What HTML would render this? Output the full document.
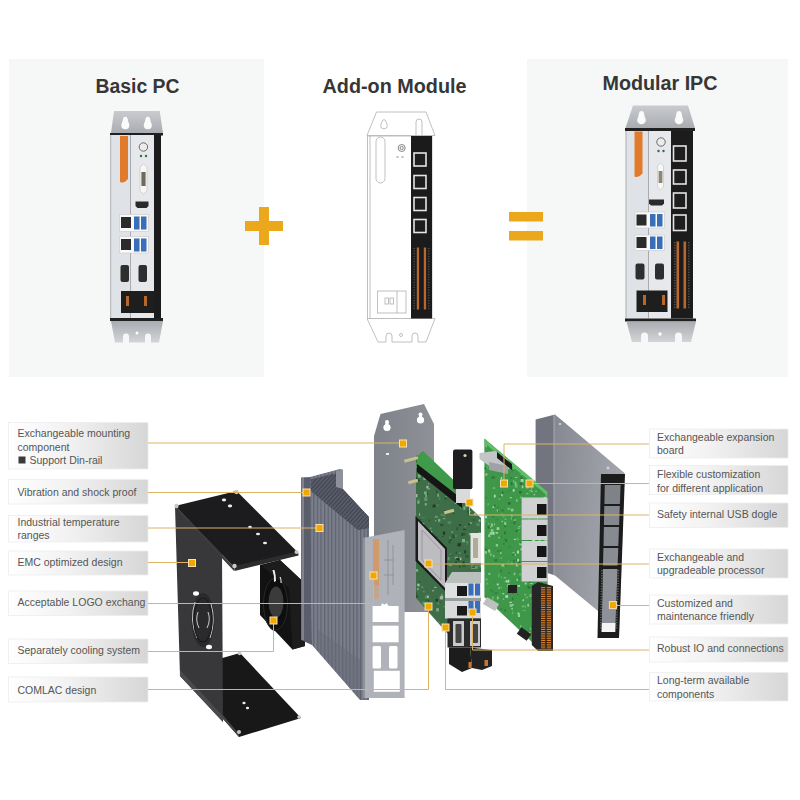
<!DOCTYPE html>
<html><head><meta charset="utf-8">
<style>
html,body{margin:0;padding:0;background:#fff;width:800px;height:800px;overflow:hidden;-webkit-font-smoothing:antialiased}
svg{display:block}
.t{font-family:"Liberation Sans",sans-serif;font-weight:bold;fill:#363636;font-size:20px}
.l{font-family:"Liberation Sans",sans-serif;fill:#555;font-size:10.5px}
</style></head><body>
<svg width="800" height="800" viewBox="0 0 800 800">
<defs>
<linearGradient id="lg" x1="0" x2="1" y1="0" y2="0">
<stop offset="0" stop-color="#ffffff"/><stop offset="0.45" stop-color="#f1f1f1"/><stop offset="1" stop-color="#d6d6d6"/>
</linearGradient>
<linearGradient id="brk" x1="0" x2="0" y1="0" y2="1">
<stop offset="0" stop-color="#c9cbcf"/><stop offset="1" stop-color="#a9acb1"/>
</linearGradient>
<linearGradient id="brkb" x1="0" x2="0" y1="0" y2="1">
<stop offset="0" stop-color="#a9acb1"/><stop offset="1" stop-color="#d2d4d7"/>
</linearGradient>
</defs>

<!-- top panels -->
<rect x="9" y="59" width="255" height="318" fill="#f6f7f7"/>
<rect x="527" y="59" width="261" height="318" fill="#f6f7f7"/>

<!-- titles -->
<text class="t" x="95.5" y="93" textLength="84" lengthAdjust="spacingAndGlyphs">Basic PC</text>
<text class="t" x="322.5" y="93" textLength="144" lengthAdjust="spacingAndGlyphs">Add-on Module</text>
<text class="t" x="602.5" y="90" textLength="115" lengthAdjust="spacingAndGlyphs">Modular IPC</text>

<!-- plus / equals -->
<g fill="#eca81c">
<rect x="245" y="221" width="38" height="10"/>
<rect x="259" y="207" width="10" height="38"/>
<rect x="509" y="212" width="34" height="9.5"/>
<rect x="509" y="231" width="34" height="9.5"/>
</g>


<!-- ===== Basic PC ===== -->
<g id="basic">
<polygon points="114,111 159.7,111 163,133 111,133" fill="url(#brk)"/>
<g fill="#fbfbfb"><circle cx="125.3" cy="119" r="2.3"/><circle cx="125.3" cy="125.3" r="4"/><polygon points="123.0,119 127.6,119 128.5,122.89999999999999 122.1,122.89999999999999"/></g><g fill="#fbfbfb"><circle cx="147.8" cy="119" r="2.3"/><circle cx="147.8" cy="125.3" r="4"/><polygon points="145.5,119 150.10000000000002,119 151.0,122.89999999999999 144.60000000000002,122.89999999999999"/></g>
<rect x="110" y="133" width="53" height="2.5" fill="#202020"/>
<rect x="110" y="135" width="44" height="183" fill="#e6e8eb"/>
<rect x="110" y="135" width="20" height="183" fill="#dfe2e7"/>
<rect x="110" y="135" width="1.2" height="183" fill="#b9bcc1"/>
<rect x="130" y="135" width="1" height="183" fill="#a9abb0"/>
<rect x="154" y="135" width="7" height="183" fill="#1c1c1c"/>
<path d="M120,136 h8 v43 q-4,5 -8,3 z" fill="#e27a2b"/>
<circle cx="143.4" cy="147" r="4.2" fill="#ececec" stroke="#6a6a6a" stroke-width="1"/>
<circle cx="141" cy="156" r="1.2" fill="#3d6a45"/><circle cx="146" cy="156" r="1.2" fill="#3d6a45"/>
<path d="M140,167 l3.5,-3 l3.5,3 v24 l-3.5,3 l-3.5,-3 z" fill="#f7f7f7" stroke="#bfbfbf" stroke-width="0.6"/>
<rect x="141.4" y="172" width="4.2" height="14" fill="#6f6a5c"/>
<path d="M135.5,201.5 h13 v4.5 l-2,2 h-9 l-2,-2 z" fill="#2a2a2a"/>
<rect x="119.5" y="214.5" width="29" height="17" fill="#f9f9f9" stroke="#c9c9c9" stroke-width="0.6"/>
<rect x="121" y="217" width="10" height="11" fill="#2b2b2b"/>
<rect x="134" y="216.5" width="5.5" height="13" fill="#3a6fb8"/>
<rect x="141" y="216.5" width="5.5" height="13" fill="#3a6fb8"/>
<rect x="119.5" y="236.5" width="29" height="16.5" fill="#f9f9f9" stroke="#c9c9c9" stroke-width="0.6"/>
<rect x="121" y="239" width="10" height="11" fill="#2b2b2b"/>
<rect x="134" y="238.5" width="5.5" height="13" fill="#3a6fb8"/>
<rect x="141" y="238.5" width="5.5" height="13" fill="#3a6fb8"/>
<rect x="120.5" y="265" width="8.5" height="17" rx="2" fill="#2e2e2e"/>
<rect x="138.5" y="265" width="8.5" height="17" rx="2" fill="#2e2e2e"/>
<rect x="121" y="291" width="33" height="22" fill="#1e1e1e"/>
<rect x="126" y="296" width="3" height="10" fill="#b8672a"/>
<rect x="144" y="296" width="3" height="10" fill="#b8672a"/>
<rect x="110" y="318" width="53" height="3" fill="#202020"/>
<path d="M111,321 h52 l-4,21.5 h-8 v-6 a3,3 0 0 0 -6,0 v6 h-16 v-6 a3,3 0 0 0 -6,0 v6 h-8 z" fill="url(#brkb)"/>
<circle cx="137" cy="333" r="1.5" fill="#fff"/>
</g>

<!-- ===== Add-on Module (line drawing) ===== -->
<g id="addon" fill="none" stroke="#b9b9b9" stroke-width="0.9">
<polygon points="376.5,112 426,112 435,135.5 367,135.5" fill="#fff"/>
<path d="M382.2,121.5 a1.8,1.8 0 0 1 3.6,0 l1.6,4 a3.4,3.4 0 1 1 -6.8,0 z"/>
<path d="M416,136 v-14 a3,3 0 0 1 6,0 v14"/>
<rect x="367.5" y="136" width="64.5" height="182.5" fill="#fff"/>
<line x1="370" y1="136" x2="370" y2="318"/>
<rect x="376" y="137" width="9" height="46" rx="4.5"/>
<circle cx="401.7" cy="148" r="3.5" stroke="#777"/>
<circle cx="401.7" cy="148" r="1.6" stroke="#777"/>
<path d="M396,157 h3 m2,0 h3" stroke="#999"/>
<rect x="377.5" y="291" width="28.5" height="22"/>
<line x1="397" y1="291" x2="397" y2="313"/>
<rect x="385" y="298" width="3.5" height="6"/><rect x="390" y="298" width="3.5" height="6"/>
<path d="M367,318.5 h68 l-9,23.5 h-8 v-6 a3,3 0 0 0 -6,0 v6 h-20 v-6 a3,3 0 0 0 -6,0 v6 h-8 z" fill="#fff"/>
<circle cx="401" cy="335" r="1.5"/>
</g>
<rect x="411" y="136" width="21" height="182.5" fill="#1b1b1b"/>
<g fill="#1e1e1e" stroke="#e4e4e4" stroke-width="1.6">
<rect x="414" y="153" width="12" height="13"/>
<rect x="414" y="175.5" width="12" height="13"/>
<rect x="414" y="197.5" width="12" height="13"/>
<rect x="414" y="219.5" width="12" height="13"/>
</g>
<g fill="#b8682c">
<rect x="416.8" y="247.5" width="2.3" height="62"/>
<rect x="423.8" y="247.5" width="2.3" height="62"/>
</g><rect x="413.5" y="248.0" width="1.4" height="1.1" fill="#555"/><rect x="428" y="248.0" width="1.4" height="1.1" fill="#555"/><rect x="413.5" y="250.6" width="1.4" height="1.1" fill="#555"/><rect x="428" y="250.6" width="1.4" height="1.1" fill="#555"/><rect x="413.5" y="253.2" width="1.4" height="1.1" fill="#555"/><rect x="428" y="253.2" width="1.4" height="1.1" fill="#555"/><rect x="413.5" y="255.8" width="1.4" height="1.1" fill="#555"/><rect x="428" y="255.8" width="1.4" height="1.1" fill="#555"/><rect x="413.5" y="258.4" width="1.4" height="1.1" fill="#555"/><rect x="428" y="258.4" width="1.4" height="1.1" fill="#555"/><rect x="413.5" y="261.0" width="1.4" height="1.1" fill="#555"/><rect x="428" y="261.0" width="1.4" height="1.1" fill="#555"/><rect x="413.5" y="263.6" width="1.4" height="1.1" fill="#555"/><rect x="428" y="263.6" width="1.4" height="1.1" fill="#555"/><rect x="413.5" y="266.2" width="1.4" height="1.1" fill="#555"/><rect x="428" y="266.2" width="1.4" height="1.1" fill="#555"/><rect x="413.5" y="268.8" width="1.4" height="1.1" fill="#555"/><rect x="428" y="268.8" width="1.4" height="1.1" fill="#555"/><rect x="413.5" y="271.4" width="1.4" height="1.1" fill="#555"/><rect x="428" y="271.4" width="1.4" height="1.1" fill="#555"/><rect x="413.5" y="274.0" width="1.4" height="1.1" fill="#555"/><rect x="428" y="274.0" width="1.4" height="1.1" fill="#555"/><rect x="413.5" y="276.6" width="1.4" height="1.1" fill="#555"/><rect x="428" y="276.6" width="1.4" height="1.1" fill="#555"/><rect x="413.5" y="279.2" width="1.4" height="1.1" fill="#555"/><rect x="428" y="279.2" width="1.4" height="1.1" fill="#555"/><rect x="413.5" y="281.8" width="1.4" height="1.1" fill="#555"/><rect x="428" y="281.8" width="1.4" height="1.1" fill="#555"/><rect x="413.5" y="284.4" width="1.4" height="1.1" fill="#555"/><rect x="428" y="284.4" width="1.4" height="1.1" fill="#555"/><rect x="413.5" y="287.0" width="1.4" height="1.1" fill="#555"/><rect x="428" y="287.0" width="1.4" height="1.1" fill="#555"/><rect x="413.5" y="289.6" width="1.4" height="1.1" fill="#555"/><rect x="428" y="289.6" width="1.4" height="1.1" fill="#555"/><rect x="413.5" y="292.2" width="1.4" height="1.1" fill="#555"/><rect x="428" y="292.2" width="1.4" height="1.1" fill="#555"/><rect x="413.5" y="294.8" width="1.4" height="1.1" fill="#555"/><rect x="428" y="294.8" width="1.4" height="1.1" fill="#555"/><rect x="413.5" y="297.4" width="1.4" height="1.1" fill="#555"/><rect x="428" y="297.4" width="1.4" height="1.1" fill="#555"/><rect x="413.5" y="300.0" width="1.4" height="1.1" fill="#555"/><rect x="428" y="300.0" width="1.4" height="1.1" fill="#555"/><rect x="413.5" y="302.6" width="1.4" height="1.1" fill="#555"/><rect x="428" y="302.6" width="1.4" height="1.1" fill="#555"/><rect x="413.5" y="305.2" width="1.4" height="1.1" fill="#555"/><rect x="428" y="305.2" width="1.4" height="1.1" fill="#555"/><rect x="413.5" y="307.8" width="1.4" height="1.1" fill="#555"/><rect x="428" y="307.8" width="1.4" height="1.1" fill="#555"/>

<!-- ===== Modular IPC ===== -->
<g id="modular">
<polygon points="633,105.5 688,105.5 695,128 625.5,128" fill="url(#brk)"/>
<g fill="#fbfbfb"><circle cx="641.5" cy="113.5" r="2.5"/><circle cx="641.5" cy="120" r="4.3"/><polygon points="639.0,113.5 644.0,113.5 644.94,117.42 638.06,117.42"/></g><g fill="#fbfbfb"><circle cx="679" cy="113.5" r="2.5"/><circle cx="679" cy="120" r="4.3"/><polygon points="676.5,113.5 681.5,113.5 682.44,117.42 675.56,117.42"/></g>
<rect x="625" y="128" width="70" height="3" fill="#202020"/>
<rect x="625.5" y="131" width="46" height="187.5" fill="#e6e8eb"/>
<rect x="625.5" y="131" width="22.5" height="187.5" fill="#dfe2e7"/>
<rect x="625.5" y="131" width="1.2" height="187.5" fill="#b9bcc1"/>
<rect x="648" y="131" width="1" height="187.5" fill="#a9abb0"/>
<rect x="671" y="131" width="22" height="187.5" fill="#1c1c1c"/>
<path d="M634.5,131.5 h8 v42 q-4,5 -8,3 z" fill="#e27a2b"/>
<circle cx="661" cy="142" r="4.2" fill="#ececec" stroke="#6a6a6a" stroke-width="1"/>
<circle cx="658.5" cy="151" r="1.2" fill="#3d6a45"/><circle cx="663.5" cy="151" r="1.2" fill="#3d6a45"/>
<path d="M657.5,166 l3,-3 l3,3 v21 l-3,3 l-3,-3 z" fill="#f7f7f7" stroke="#bfbfbf" stroke-width="0.6"/>
<rect x="658.6" y="171" width="3.8" height="12" fill="#8d8672"/>
<path d="M649,199.5 h15 v4 l-2,2 h-11 l-2,-2 z" fill="#2a2a2a"/>
<rect x="635" y="212" width="29.5" height="16" fill="#f9f9f9" stroke="#c9c9c9" stroke-width="0.6"/>
<rect x="636.5" y="214.5" width="10" height="11" fill="#2b2b2b"/>
<rect x="650" y="214" width="5.5" height="12.5" fill="#3a6fb8"/>
<rect x="657" y="214" width="5.5" height="12.5" fill="#3a6fb8"/>
<rect x="635" y="235" width="29.5" height="15.5" fill="#f9f9f9" stroke="#c9c9c9" stroke-width="0.6"/>
<rect x="636.5" y="237" width="10" height="11" fill="#2b2b2b"/>
<rect x="650" y="236.5" width="5.5" height="12.5" fill="#3a6fb8"/>
<rect x="657" y="236.5" width="5.5" height="12.5" fill="#3a6fb8"/>
<rect x="635.5" y="263.5" width="9" height="16" rx="2" fill="#2e2e2e"/>
<rect x="655" y="263.5" width="9" height="16" rx="2" fill="#2e2e2e"/>
<rect x="636.5" y="290.5" width="31" height="21.5" fill="#1e1e1e"/>
<rect x="643" y="295" width="3" height="10" fill="#b8672a"/>
<rect x="662" y="295" width="3" height="10" fill="#b8672a"/>
<g fill="#1e1e1e" stroke="#e4e4e4" stroke-width="1.6">
<rect x="673.5" y="146" width="12.5" height="15"/>
<rect x="673.5" y="170" width="12.5" height="14"/>
<rect x="673.5" y="193" width="12.5" height="15"/>
<rect x="673.5" y="215" width="12.5" height="15.5"/>
</g>
<rect x="676.5" y="241.5" width="2.6" height="67" fill="#b8682c"/>
<rect x="683.5" y="241.5" width="2.6" height="67" fill="#b8682c"/><rect x="674" y="242.0" width="1.5" height="1.2" fill="#555"/><rect x="688" y="242.0" width="1.5" height="1.2" fill="#555"/><rect x="674" y="244.7" width="1.5" height="1.2" fill="#555"/><rect x="688" y="244.7" width="1.5" height="1.2" fill="#555"/><rect x="674" y="247.4" width="1.5" height="1.2" fill="#555"/><rect x="688" y="247.4" width="1.5" height="1.2" fill="#555"/><rect x="674" y="250.1" width="1.5" height="1.2" fill="#555"/><rect x="688" y="250.1" width="1.5" height="1.2" fill="#555"/><rect x="674" y="252.8" width="1.5" height="1.2" fill="#555"/><rect x="688" y="252.8" width="1.5" height="1.2" fill="#555"/><rect x="674" y="255.5" width="1.5" height="1.2" fill="#555"/><rect x="688" y="255.5" width="1.5" height="1.2" fill="#555"/><rect x="674" y="258.2" width="1.5" height="1.2" fill="#555"/><rect x="688" y="258.2" width="1.5" height="1.2" fill="#555"/><rect x="674" y="260.9" width="1.5" height="1.2" fill="#555"/><rect x="688" y="260.9" width="1.5" height="1.2" fill="#555"/><rect x="674" y="263.6" width="1.5" height="1.2" fill="#555"/><rect x="688" y="263.6" width="1.5" height="1.2" fill="#555"/><rect x="674" y="266.3" width="1.5" height="1.2" fill="#555"/><rect x="688" y="266.3" width="1.5" height="1.2" fill="#555"/><rect x="674" y="269.0" width="1.5" height="1.2" fill="#555"/><rect x="688" y="269.0" width="1.5" height="1.2" fill="#555"/><rect x="674" y="271.7" width="1.5" height="1.2" fill="#555"/><rect x="688" y="271.7" width="1.5" height="1.2" fill="#555"/><rect x="674" y="274.4" width="1.5" height="1.2" fill="#555"/><rect x="688" y="274.4" width="1.5" height="1.2" fill="#555"/><rect x="674" y="277.1" width="1.5" height="1.2" fill="#555"/><rect x="688" y="277.1" width="1.5" height="1.2" fill="#555"/><rect x="674" y="279.8" width="1.5" height="1.2" fill="#555"/><rect x="688" y="279.8" width="1.5" height="1.2" fill="#555"/><rect x="674" y="282.5" width="1.5" height="1.2" fill="#555"/><rect x="688" y="282.5" width="1.5" height="1.2" fill="#555"/><rect x="674" y="285.2" width="1.5" height="1.2" fill="#555"/><rect x="688" y="285.2" width="1.5" height="1.2" fill="#555"/><rect x="674" y="287.9" width="1.5" height="1.2" fill="#555"/><rect x="688" y="287.9" width="1.5" height="1.2" fill="#555"/><rect x="674" y="290.6" width="1.5" height="1.2" fill="#555"/><rect x="688" y="290.6" width="1.5" height="1.2" fill="#555"/><rect x="674" y="293.3" width="1.5" height="1.2" fill="#555"/><rect x="688" y="293.3" width="1.5" height="1.2" fill="#555"/><rect x="674" y="296.0" width="1.5" height="1.2" fill="#555"/><rect x="688" y="296.0" width="1.5" height="1.2" fill="#555"/><rect x="674" y="298.7" width="1.5" height="1.2" fill="#555"/><rect x="688" y="298.7" width="1.5" height="1.2" fill="#555"/><rect x="674" y="301.4" width="1.5" height="1.2" fill="#555"/><rect x="688" y="301.4" width="1.5" height="1.2" fill="#555"/><rect x="674" y="304.1" width="1.5" height="1.2" fill="#555"/><rect x="688" y="304.1" width="1.5" height="1.2" fill="#555"/><rect x="674" y="306.8" width="1.5" height="1.2" fill="#555"/><rect x="688" y="306.8" width="1.5" height="1.2" fill="#555"/>
<rect x="625" y="318.5" width="71" height="3" fill="#202020"/>
<path d="M626.5,321.5 h69.5 l-5,20.5 h-9 v-6 a3.5,3.5 0 0 0 -7,0 v6 h-27 v-6 a3.5,3.5 0 0 0 -7,0 v6 h-9 z" fill="url(#brkb)"/>
<circle cx="660" cy="334" r="1.7" fill="#fff"/>
</g>


<!-- ===== labels ===== -->
<g>
<rect x="8.5" y="422.5" width="139.5" height="46.5" fill="url(#lg)" stroke="#ededed" stroke-width="0.8"/>
<rect x="8.5" y="479.5" width="139.5" height="24.5" fill="url(#lg)" stroke="#ededed" stroke-width="0.8"/>
<rect x="8.5" y="515.5" width="139.5" height="26.5" fill="url(#lg)" stroke="#ededed" stroke-width="0.8"/>
<rect x="8.5" y="551" width="139.5" height="24" fill="url(#lg)" stroke="#ededed" stroke-width="0.8"/>
<rect x="8.5" y="591" width="139.5" height="24.5" fill="url(#lg)" stroke="#ededed" stroke-width="0.8"/>
<rect x="8.5" y="639" width="139.5" height="24.5" fill="url(#lg)" stroke="#ededed" stroke-width="0.8"/>
<rect x="8.5" y="677" width="139.5" height="25" fill="url(#lg)" stroke="#ededed" stroke-width="0.8"/>
<rect x="649.5" y="429" width="138.5" height="29" fill="url(#lg)" stroke="#ededed" stroke-width="0.8"/>
<rect x="649.5" y="465.5" width="138.5" height="29" fill="url(#lg)" stroke="#ededed" stroke-width="0.8"/>
<rect x="649.5" y="503" width="138.5" height="24.5" fill="url(#lg)" stroke="#ededed" stroke-width="0.8"/>
<rect x="649.5" y="549" width="138.5" height="29" fill="url(#lg)" stroke="#ededed" stroke-width="0.8"/>
<rect x="649.5" y="595" width="138.5" height="29" fill="url(#lg)" stroke="#ededed" stroke-width="0.8"/>
<rect x="649.5" y="637" width="138.5" height="25" fill="url(#lg)" stroke="#ededed" stroke-width="0.8"/>
<rect x="649.5" y="672.5" width="138.5" height="28.5" fill="url(#lg)" stroke="#ededed" stroke-width="0.8"/>
</g>
<g class="l">
<text x="17.5" y="437">Exchangeable mounting</text>
<text x="17.5" y="450.5">component</text>
<rect x="18.5" y="456.5" width="7" height="7" fill="#3a3a3a"/>
<text x="29.5" y="463.8">Support Din-rail</text>
<text x="17.5" y="495.6">Vibration and shock proof</text>
<text x="17.5" y="525.6">Industrial temperature</text>
<text x="17.5" y="539">ranges</text>
<text x="17.5" y="565.6">EMC optimized design</text>
<text x="17.5" y="606">Acceptable LOGO exchang</text>
<text x="17.5" y="654">Separately cooling system</text>
<text x="17.5" y="693.6">COMLAC design</text>
<text x="657" y="441">Exchangeable expansion</text>
<text x="657" y="454.4">board</text>
<text x="657" y="478">Flexible customization</text>
<text x="657" y="491.6">for different application</text>
<text x="657" y="518">Safety internal USB dogle</text>
<text x="657" y="561">Exchangeable and</text>
<text x="657" y="574.4">upgradeable processor</text>
<text x="657" y="606.6">Customized and</text>
<text x="657" y="620">maintenance friendly</text>
<text x="657" y="652.4">Robust IO and connections</text>
<text x="657" y="684.4">Long-term available</text>
<text x="657" y="697.6">components</text>
</g>

<!-- ===== exploded view ===== -->
<defs>
<clipPath id="cpMain"><polygon points="416,455 481,518 481,620 448,634 416,598"/></clipPath>
<clipPath id="cpExp"><polygon points="484.4,438.6 547.6,491.8 547.6,585 532,642 484.4,597"/></clipPath>
<clipPath id="cpHs"><polygon points="310,477 340,469 343,470 343,489 369,517 369,700 360,700 312,645"/></clipPath>
<pattern id="finpat" width="3.6" height="10" patternUnits="userSpaceOnUse"><rect width="3.6" height="10" fill="#7b7e8b"/><rect width="1.3" height="10" fill="#5f6270"/></pattern>
<pattern id="finpat2" width="3" height="3" patternUnits="userSpaceOnUse" patternTransform="rotate(42)"><rect width="3" height="3" fill="#5d606d"/><rect width="1.2" height="3" fill="#3c3f4b"/></pattern>
<linearGradient id="caseg" x1="0" x2="1" y1="0" y2="0.3"><stop offset="0" stop-color="#868991"/><stop offset="1" stop-color="#a4a7ae"/></linearGradient>
<linearGradient id="mbg" x1="0" x2="1" y1="0" y2="0"><stop offset="0" stop-color="#7e8289"/><stop offset="1" stop-color="#8e9197"/></linearGradient>
</defs>
<g id="exploded">
<!-- black COMLAC bracket -->
<polygon points="180,670 240,653 301,718 239,737" fill="#181818"/>
<polygon points="180,670 239,737 239,734 182,667" fill="#444"/>
<polygon points="175,506 222,554 223,722 180,676" fill="#38383b"/>
<polygon points="180,670 223,716 223,722 180,676" fill="#4a4a4c"/>
<polygon points="175,506 236.5,491 298,552.4 234,567" fill="#1c1c1e"/>
<polygon points="175,506 234,567 234,571 176,509" fill="#3c3c3e"/>
<polygon points="234,566 298,551.4 298.5,555.5 234.5,571" fill="#2c2c2c"/>
<g fill="#c8c8c8"><circle cx="176.5" cy="506" r="2.2"/><circle cx="236.5" cy="492" r="2.2"/><circle cx="296.5" cy="552" r="2"/><circle cx="234.5" cy="566" r="2.2"/>
<circle cx="239.5" cy="653.5" r="1.8"/><circle cx="299" cy="717" r="1.8"/><circle cx="239" cy="732" r="2"/></g>
<g fill="#eee"><ellipse cx="224" cy="500" rx="2.2" ry="1.4"/><ellipse cx="230" cy="506" rx="2.2" ry="1.4"/><ellipse cx="250" cy="527" rx="1.8" ry="1.2"/><ellipse cx="258" cy="534" rx="2" ry="1.3"/><ellipse cx="265" cy="543" rx="2" ry="1.3"/>
<ellipse cx="244" cy="703" rx="1.6" ry="1.2"/><ellipse cx="247.5" cy="708" rx="1.6" ry="1.2"/></g>
<ellipse cx="203" cy="620" rx="11.5" ry="27" fill="#2a2a2c"/>
<g fill="none" stroke="#d9d9d9" stroke-width="0.9">
<path d="M195,602 q-6,18 2,36"/><path d="M211,604 q5,16 -1,34"/>
<path d="M198,612 q-3,8 1,16"/><path d="M208,612 q3,8 -1,16"/>
</g>
<ellipse cx="203" cy="620" rx="9" ry="22" fill="none" stroke="#1a1a1a" stroke-width="1.2"/>
<ellipse cx="196" cy="593.5" rx="3" ry="2.2" fill="#fff"/>
<ellipse cx="209" cy="647" rx="3" ry="2.2" fill="#fff"/>
<!-- fan -->
<polygon points="260,565 280,560 304,582.5 305,646 292.5,649.5 260,615" fill="#121212"/>
<polygon points="280,560 304,582.5 305,646 292.5,649.5 289,588 262,566" fill="#1c1c1d"/>
<ellipse cx="275.5" cy="604" rx="12.5" ry="27" fill="#0e0e0e"/>
<ellipse cx="275.5" cy="604" rx="12" ry="26" fill="none" stroke="#2a2a2a" stroke-width="1"/>
<path d="M272.5,570 q2,6 1.5,12 l2,-1 q0,-6 -1.5,-11 z" fill="#f2f2f2"/>
<path d="M279.5,577 q1.5,3 1,6 l1.2,0 q0,-3 -1,-6 z" fill="#e8e8e8"/>
<ellipse cx="276" cy="602" rx="7.5" ry="15.5" fill="#3b3b3c"/>
<!-- heatsink -->
<polygon points="301,477.5 311,477 312,645 301,640" fill="#5a5d6b"/><rect x="301.5" y="478" width="2.5" height="162" fill="#80838f"/>
<polygon points="310,477 340,469 343,470 343,489 369,517 369,700 360,700 312,645" fill="url(#finpat)"/>
<g clip-path="url(#cpHs)">
<polygon points="311,479.5 336,473.5 343,489 369,517 369,528 358,530 311,491" fill="#4f525f"/><polygon points="311,479.5 336,473.5 343,489 369,517 369,528 358,530 311,491" fill="url(#finpat2)" opacity="0.8"/>
<polygon points="318,630 360,660 360,700 318,650" fill="#676a78" opacity="0.5"/>
</g>
<polygon points="336,471 343,469.5 343,489 336,487" fill="#8e919b"/>
<!-- mounting bracket -->
<polygon points="374,436 380.5,414 424,404 434,424 434,612 374,612" fill="url(#mbg)"/>
<g fill="#fff"><circle cx="387" cy="422" r="2"/><circle cx="387" cy="427.5" r="3.6"/><rect x="385.5" y="422" width="3" height="5"/><circle cx="420.5" cy="414.5" r="2"/><circle cx="420.5" cy="420" r="3.6"/><rect x="419" y="414.5" width="3" height="5"/></g>
<rect x="386" y="453" width="3" height="2" fill="#eee"/>
<!-- IO shield -->
<polygon points="363,538 404.6,530 404.6,698 363,698" fill="#afb2b9"/>
<rect x="363" y="538" width="2" height="160" fill="#8e9198"/>
<rect x="373" y="539" width="6" height="46" fill="#d19a6c"/><rect x="373" y="585" width="6" height="14" fill="#c2a690"/>
<g fill="none" stroke="#8a8d94" stroke-width="0.8"><path d="M388,540 v55 M393,545 v40 M384,560 h10 M384,575 h10"/></g>
<g fill="#fff">
<path d="M372.6,606 h8 l2,-3 q2,3 4,0 l2,3 h10 v16 h-26 z"/>
<rect x="372.6" y="625.7" width="26" height="16.6"/>
<rect x="372.6" y="646" width="8.4" height="22.4" rx="1.5"/>
<rect x="389" y="646" width="8.5" height="22.4" rx="1.5"/>
<rect x="373.8" y="670.8" width="26" height="21"/>
</g>
<!-- main PCB -->
<polygon points="416,455 481,518 481,620 448,634 416,598" fill="#3d6e47"/>
<g clip-path="url(#cpMain)"><rect x="456.7" y="588.5" width="2.9" height="3.3" fill="#5c9966"/><rect x="471.3" y="594.7" width="1.5" height="0.9" fill="#2a5a33"/><rect x="422.6" y="539.4" width="1.5" height="2.3" fill="#8aa790"/><rect x="415.9" y="494.0" width="1.6" height="3.3" fill="#a8b5aa"/><rect x="425.7" y="598.5" width="1.2" height="2.5" fill="#2a5a33"/><rect x="423.9" y="630.0" width="0.8" height="2.9" fill="#2a5a33"/><rect x="473.5" y="507.1" width="3.4" height="2.3" fill="#8aa790"/><rect x="427.2" y="629.3" width="1.3" height="3.4" fill="#a8b5aa"/><rect x="435.0" y="520.0" width="1.2" height="1.2" fill="#77ad7f"/><rect x="437.2" y="602.1" width="2.4" height="2.4" fill="#4f8a58"/><rect x="419.4" y="519.0" width="1.6" height="2.7" fill="#2a5a33"/><rect x="447.2" y="581.8" width="1.0" height="3.4" fill="#5c9966"/><rect x="478.6" y="519.4" width="1.9" height="2.3" fill="#a8b5aa"/><rect x="439.5" y="559.1" width="0.8" height="0.9" fill="#2a5a33"/><rect x="456.8" y="626.8" width="1.1" height="1.5" fill="#33473a"/><rect x="438.1" y="518.9" width="2.2" height="2.9" fill="#77ad7f"/><rect x="454.5" y="595.6" width="1.8" height="1.6" fill="#a8b5aa"/><rect x="478.4" y="471.4" width="1.7" height="2.4" fill="#2a5a33"/><rect x="437.8" y="621.4" width="2.3" height="1.6" fill="#4f8a58"/><rect x="435.5" y="598.8" width="2.5" height="2.7" fill="#1f3d25"/><rect x="481.8" y="484.1" width="0.9" height="3.5" fill="#a8b5aa"/><rect x="417.1" y="588.3" width="1.7" height="1.5" fill="#a8b5aa"/><rect x="424.8" y="631.2" width="2.5" height="3.0" fill="#4f8a58"/><rect x="471.2" y="478.5" width="2.8" height="3.4" fill="#a8b5aa"/><rect x="422.1" y="533.2" width="1.2" height="3.1" fill="#1f3d25"/><rect x="424.5" y="621.0" width="2.5" height="1.3" fill="#33473a"/><rect x="479.3" y="579.0" width="1.7" height="1.5" fill="#33473a"/><rect x="442.1" y="481.4" width="1.8" height="3.5" fill="#2a5a33"/><rect x="457.0" y="544.9" width="1.7" height="1.0" fill="#1f3d25"/><rect x="449.5" y="553.7" width="2.2" height="1.0" fill="#4f8a58"/><rect x="461.5" y="574.5" width="2.9" height="1.8" fill="#1f3d25"/><rect x="471.0" y="502.7" width="3.4" height="2.7" fill="#4f8a58"/><rect x="458.5" y="559.5" width="0.8" height="2.3" fill="#1f3d25"/><rect x="436.8" y="504.3" width="1.6" height="2.2" fill="#4f8a58"/><rect x="438.3" y="570.9" width="2.8" height="3.0" fill="#4f8a58"/><rect x="476.8" y="486.0" width="3.1" height="2.0" fill="#4f8a58"/><rect x="479.1" y="548.3" width="2.2" height="1.2" fill="#4f8a58"/><rect x="477.8" y="540.9" width="2.7" height="2.7" fill="#a8b5aa"/><rect x="426.5" y="595.5" width="2.4" height="2.6" fill="#a8b5aa"/><rect x="435.3" y="554.6" width="3.1" height="1.5" fill="#5c9966"/><rect x="428.1" y="560.6" width="2.5" height="1.3" fill="#2a5a33"/><rect x="457.3" y="462.5" width="2.1" height="1.4" fill="#5c9966"/><rect x="474.8" y="474.9" width="3.4" height="2.1" fill="#5c9966"/><rect x="442.8" y="518.2" width="2.6" height="1.0" fill="#8aa790"/><rect x="430.9" y="617.6" width="0.8" height="1.9" fill="#1f3d25"/><rect x="472.3" y="611.0" width="2.7" height="2.3" fill="#5c9966"/><rect x="451.8" y="509.2" width="1.6" height="2.2" fill="#1f3d25"/><rect x="479.2" y="602.3" width="1.9" height="3.0" fill="#4f8a58"/><rect x="446.3" y="483.2" width="1.8" height="2.1" fill="#8aa790"/><rect x="479.9" y="564.5" width="1.7" height="3.2" fill="#5c9966"/><rect x="440.6" y="513.7" width="3.3" height="2.3" fill="#4f8a58"/><rect x="457.2" y="615.4" width="1.8" height="2.0" fill="#8aa790"/><rect x="448.1" y="541.3" width="2.7" height="1.8" fill="#2a5a33"/><rect x="454.9" y="501.8" width="3.4" height="2.1" fill="#a8b5aa"/><rect x="416.3" y="625.1" width="1.6" height="3.3" fill="#2a5a33"/><rect x="447.0" y="476.9" width="2.5" height="2.0" fill="#1f3d25"/><rect x="417.7" y="479.6" width="1.9" height="2.1" fill="#1f3d25"/><rect x="431.3" y="540.4" width="0.9" height="2.1" fill="#2a5a33"/><rect x="463.3" y="506.4" width="2.1" height="3.5" fill="#77ad7f"/><rect x="416.1" y="477.7" width="1.6" height="2.7" fill="#1f3d25"/><rect x="464.0" y="459.8" width="1.7" height="2.6" fill="#2a5a33"/><rect x="417.4" y="500.4" width="2.0" height="3.3" fill="#8aa790"/><rect x="416.0" y="595.1" width="2.0" height="2.4" fill="#33473a"/><rect x="472.5" y="606.4" width="2.1" height="2.6" fill="#8aa790"/><rect x="475.2" y="538.7" width="2.8" height="1.6" fill="#5c9966"/><rect x="461.5" y="532.9" width="1.6" height="2.9" fill="#1f3d25"/><rect x="424.6" y="541.1" width="2.3" height="2.1" fill="#4f8a58"/><rect x="451.0" y="531.6" width="2.3" height="0.9" fill="#8aa790"/><rect x="432.9" y="470.3" width="1.0" height="3.3" fill="#4f8a58"/><rect x="463.4" y="631.2" width="3.5" height="2.7" fill="#5c9966"/><rect x="423.3" y="477.0" width="2.5" height="3.0" fill="#77ad7f"/><rect x="462.7" y="479.2" width="1.6" height="3.3" fill="#2a5a33"/><rect x="427.3" y="488.4" width="3.0" height="1.0" fill="#8aa790"/><rect x="417.9" y="474.5" width="1.8" height="1.0" fill="#5c9966"/><rect x="453.3" y="476.3" width="1.9" height="2.5" fill="#5c9966"/><rect x="443.9" y="511.6" width="2.4" height="2.1" fill="#4f8a58"/><rect x="476.3" y="479.9" width="1.6" height="2.3" fill="#1f3d25"/><rect x="476.0" y="554.9" width="2.5" height="1.5" fill="#8aa790"/><rect x="432.0" y="590.1" width="2.2" height="1.2" fill="#8aa790"/><rect x="472.9" y="536.6" width="1.9" height="1.2" fill="#5c9966"/><rect x="458.9" y="470.3" width="2.6" height="1.0" fill="#77ad7f"/><rect x="448.9" y="536.6" width="1.9" height="2.0" fill="#4f8a58"/><rect x="422.2" y="550.5" width="2.3" height="1.8" fill="#2a5a33"/><rect x="478.3" y="532.3" width="2.9" height="2.8" fill="#77ad7f"/><rect x="480.2" y="574.7" width="3.0" height="1.2" fill="#a8b5aa"/><rect x="438.7" y="497.3" width="1.7" height="2.5" fill="#4f8a58"/><rect x="468.3" y="523.1" width="2.8" height="1.8" fill="#1f3d25"/><rect x="468.9" y="533.0" width="3.1" height="2.2" fill="#8aa790"/><rect x="464.6" y="526.2" width="1.1" height="0.9" fill="#8aa790"/><rect x="428.1" y="543.2" width="3.3" height="2.6" fill="#4f8a58"/><rect x="415.0" y="539.6" width="3.2" height="2.5" fill="#a8b5aa"/><rect x="436.7" y="538.1" width="1.3" height="2.6" fill="#77ad7f"/><rect x="440.1" y="524.4" width="3.2" height="1.2" fill="#1f3d25"/><rect x="422.4" y="602.3" width="2.8" height="2.6" fill="#5c9966"/><rect x="447.3" y="460.8" width="3.3" height="1.8" fill="#5c9966"/><rect x="461.1" y="576.3" width="2.1" height="3.4" fill="#77ad7f"/><rect x="467.6" y="513.4" width="2.0" height="1.4" fill="#2a5a33"/><rect x="417.2" y="583.7" width="2.4" height="2.6" fill="#a8b5aa"/><rect x="476.1" y="582.2" width="2.6" height="1.3" fill="#4f8a58"/><rect x="434.0" y="586.8" width="2.7" height="1.2" fill="#8aa790"/><rect x="426.8" y="492.6" width="0.9" height="2.4" fill="#1f3d25"/><rect x="415.4" y="466.0" width="2.9" height="1.9" fill="#5c9966"/><rect x="417.2" y="605.4" width="3.1" height="2.3" fill="#77ad7f"/><rect x="463.0" y="497.7" width="3.0" height="1.0" fill="#33473a"/><rect x="418.6" y="498.8" width="0.9" height="1.9" fill="#5c9966"/><rect x="418.2" y="605.0" width="2.0" height="2.5" fill="#5c9966"/><rect x="478.7" y="490.0" width="2.7" height="2.5" fill="#8aa790"/><rect x="450.6" y="470.2" width="1.6" height="1.1" fill="#2a5a33"/><rect x="455.1" y="609.2" width="1.4" height="0.8" fill="#4f8a58"/><rect x="447.6" y="557.9" width="1.8" height="2.5" fill="#5c9966"/><rect x="476.2" y="510.4" width="2.0" height="3.0" fill="#8aa790"/><rect x="452.1" y="480.0" width="2.1" height="2.9" fill="#1f3d25"/><rect x="469.9" y="511.3" width="1.2" height="1.0" fill="#8aa790"/><rect x="461.7" y="598.8" width="3.4" height="2.6" fill="#1f3d25"/><rect x="419.1" y="581.1" width="0.9" height="1.3" fill="#1f3d25"/><rect x="474.1" y="614.4" width="1.0" height="2.9" fill="#a8b5aa"/><rect x="465.4" y="555.1" width="3.2" height="2.6" fill="#2a5a33"/><rect x="453.5" y="534.6" width="3.0" height="2.6" fill="#5c9966"/><rect x="463.8" y="581.2" width="1.5" height="3.0" fill="#a8b5aa"/><rect x="452.6" y="512.8" width="1.6" height="1.2" fill="#33473a"/><rect x="460.3" y="506.4" width="1.0" height="2.9" fill="#5c9966"/><rect x="416.8" y="464.1" width="1.2" height="1.8" fill="#1f3d25"/><rect x="478.6" y="565.2" width="1.4" height="2.0" fill="#4f8a58"/><rect x="428.5" y="519.5" width="1.2" height="2.5" fill="#2a5a33"/><rect x="463.7" y="472.2" width="2.2" height="1.3" fill="#2a5a33"/><rect x="444.9" y="623.9" width="2.9" height="1.1" fill="#4f8a58"/><rect x="444.9" y="496.1" width="2.4" height="1.3" fill="#5c9966"/><rect x="466.4" y="623.5" width="2.2" height="3.4" fill="#5c9966"/><rect x="421.9" y="601.6" width="1.9" height="0.9" fill="#5c9966"/><rect x="417.2" y="558.9" width="2.1" height="3.2" fill="#a8b5aa"/><rect x="446.1" y="491.2" width="3.0" height="1.6" fill="#4f8a58"/><rect x="466.2" y="596.3" width="1.8" height="3.0" fill="#5c9966"/><rect x="456.4" y="527.2" width="1.2" height="3.0" fill="#33473a"/><rect x="440.6" y="471.9" width="1.9" height="2.8" fill="#1f3d25"/><rect x="475.3" y="490.9" width="3.0" height="1.7" fill="#33473a"/><rect x="472.8" y="567.2" width="3.0" height="1.8" fill="#5c9966"/><rect x="421.9" y="564.0" width="2.5" height="3.0" fill="#5c9966"/><rect x="436.3" y="459.9" width="1.6" height="1.8" fill="#33473a"/><rect x="451.6" y="579.3" width="2.0" height="2.9" fill="#5c9966"/><rect x="451.0" y="598.8" width="1.8" height="2.4" fill="#8aa790"/><rect x="434.0" y="469.0" width="1.0" height="1.8" fill="#a8b5aa"/><rect x="435.6" y="622.3" width="1.5" height="2.7" fill="#77ad7f"/><rect x="417.5" y="470.9" width="3.4" height="1.6" fill="#4f8a58"/><rect x="461.1" y="605.9" width="2.8" height="2.4" fill="#8aa790"/><rect x="447.4" y="471.5" width="1.1" height="1.7" fill="#a8b5aa"/><rect x="441.4" y="455.5" width="1.9" height="1.3" fill="#8aa790"/><rect x="476.0" y="565.4" width="1.8" height="1.1" fill="#4f8a58"/><rect x="431.7" y="473.0" width="1.6" height="3.0" fill="#77ad7f"/><rect x="475.1" y="485.1" width="2.5" height="2.9" fill="#8aa790"/><rect x="458.9" y="557.6" width="2.5" height="2.5" fill="#a8b5aa"/><rect x="442.9" y="531.6" width="2.2" height="3.2" fill="#1f3d25"/><rect x="443.0" y="470.2" width="3.2" height="1.7" fill="#a8b5aa"/><rect x="417.0" y="475.8" width="2.3" height="2.4" fill="#2a5a33"/><rect x="444.1" y="513.7" width="1.1" height="2.9" fill="#4f8a58"/><rect x="463.8" y="466.1" width="2.1" height="3.1" fill="#77ad7f"/><rect x="436.3" y="608.1" width="2.5" height="3.3" fill="#8aa790"/><rect x="474.9" y="565.8" width="3.0" height="3.1" fill="#5c9966"/><rect x="428.0" y="483.2" width="1.1" height="1.2" fill="#77ad7f"/><rect x="453.5" y="534.4" width="1.7" height="2.9" fill="#2a5a33"/><rect x="462.8" y="621.3" width="3.4" height="2.5" fill="#77ad7f"/><rect x="439.5" y="601.6" width="1.3" height="1.7" fill="#2a5a33"/><rect x="445.7" y="577.5" width="2.8" height="1.0" fill="#a8b5aa"/><rect x="478.1" y="538.9" width="0.8" height="3.4" fill="#4f8a58"/><rect x="423.9" y="455.6" width="1.8" height="1.7" fill="#77ad7f"/><rect x="447.9" y="623.8" width="2.7" height="0.8" fill="#33473a"/><rect x="481.9" y="590.2" width="1.3" height="1.7" fill="#2a5a33"/><rect x="434.5" y="544.8" width="2.7" height="2.9" fill="#77ad7f"/><rect x="434.8" y="515.7" width="3.1" height="2.2" fill="#5c9966"/><rect x="429.8" y="632.5" width="1.5" height="2.7" fill="#2a5a33"/><rect x="433.2" y="472.3" width="2.1" height="3.5" fill="#a8b5aa"/><rect x="472.3" y="499.1" width="2.0" height="1.1" fill="#77ad7f"/><rect x="415.3" y="592.9" width="1.8" height="0.8" fill="#1f3d25"/><rect x="452.7" y="627.2" width="3.1" height="1.0" fill="#8aa790"/><rect x="428.0" y="599.6" width="0.8" height="2.2" fill="#1f3d25"/><rect x="455.1" y="606.1" width="2.1" height="0.9" fill="#2a5a33"/><rect x="441.3" y="595.1" width="2.0" height="2.4" fill="#5c9966"/><rect x="429.4" y="530.9" width="2.8" height="3.0" fill="#a8b5aa"/><rect x="476.3" y="523.1" width="3.5" height="2.8" fill="#4f8a58"/><rect x="424.9" y="595.6" width="1.9" height="3.4" fill="#4f8a58"/><rect x="429.5" y="530.9" width="1.5" height="2.1" fill="#1f3d25"/><rect x="415.2" y="569.0" width="2.9" height="2.8" fill="#77ad7f"/><rect x="420.0" y="523.6" width="3.2" height="3.2" fill="#8aa790"/><rect x="458.4" y="589.5" width="2.1" height="1.7" fill="#33473a"/><rect x="424.1" y="497.6" width="3.3" height="3.3" fill="#5c9966"/><rect x="416.0" y="601.2" width="1.0" height="1.2" fill="#4f8a58"/><rect x="437.4" y="493.6" width="1.6" height="3.2" fill="#77ad7f"/><rect x="434.0" y="474.1" width="1.9" height="1.6" fill="#33473a"/><rect x="451.7" y="534.8" width="3.2" height="3.4" fill="#2a5a33"/><rect x="432.6" y="553.2" width="2.8" height="1.2" fill="#33473a"/><rect x="459.6" y="465.1" width="0.8" height="1.4" fill="#8aa790"/><rect x="448.8" y="564.9" width="2.9" height="1.0" fill="#8aa790"/><rect x="417.6" y="524.4" width="1.7" height="0.9" fill="#1f3d25"/><rect x="444.5" y="473.5" width="1.1" height="3.2" fill="#1f3d25"/><rect x="462.8" y="623.7" width="3.4" height="3.5" fill="#1f3d25"/><rect x="471.7" y="561.4" width="2.6" height="2.5" fill="#5c9966"/><rect x="464.3" y="550.2" width="1.8" height="3.3" fill="#1f3d25"/><rect x="469.8" y="522.2" width="1.9" height="2.0" fill="#77ad7f"/><rect x="448.1" y="556.9" width="1.4" height="2.0" fill="#5c9966"/><rect x="464.7" y="476.0" width="3.2" height="1.8" fill="#4f8a58"/><rect x="432.6" y="504.6" width="2.9" height="2.8" fill="#1f3d25"/><rect x="431.8" y="459.5" width="1.5" height="1.2" fill="#8aa790"/><rect x="462.0" y="561.6" width="3.2" height="3.3" fill="#2a5a33"/><rect x="454.8" y="556.8" width="3.2" height="1.8" fill="#77ad7f"/><rect x="415.6" y="462.8" width="3.0" height="2.1" fill="#5c9966"/><rect x="416.7" y="529.1" width="1.9" height="2.2" fill="#33473a"/><rect x="456.0" y="494.9" width="3.4" height="1.1" fill="#77ad7f"/><rect x="463.2" y="561.5" width="0.9" height="2.7" fill="#1f3d25"/><rect x="458.5" y="615.6" width="2.7" height="1.0" fill="#1f3d25"/><rect x="423.1" y="590.8" width="1.5" height="1.6" fill="#5c9966"/><rect x="473.9" y="513.1" width="2.6" height="2.1" fill="#a8b5aa"/><rect x="425.4" y="494.0" width="1.5" height="3.4" fill="#8aa790"/><rect x="445.7" y="482.0" width="3.5" height="2.5" fill="#33473a"/><rect x="456.6" y="572.1" width="1.3" height="1.2" fill="#33473a"/><rect x="426.4" y="545.4" width="3.3" height="1.7" fill="#5c9966"/><rect x="424.7" y="503.2" width="2.1" height="2.2" fill="#8aa790"/><rect x="452.2" y="574.2" width="1.9" height="2.9" fill="#4f8a58"/><rect x="434.7" y="474.4" width="1.5" height="1.8" fill="#1f3d25"/><rect x="447.6" y="582.7" width="1.0" height="3.0" fill="#77ad7f"/><rect x="437.5" y="473.5" width="2.5" height="3.1" fill="#2a5a33"/><rect x="418.3" y="630.0" width="1.8" height="2.5" fill="#1f3d25"/><rect x="421.7" y="609.4" width="3.2" height="1.6" fill="#1f3d25"/><rect x="463.0" y="528.9" width="3.1" height="1.0" fill="#1f3d25"/><rect x="419.6" y="462.1" width="1.1" height="2.8" fill="#a8b5aa"/><rect x="422.0" y="529.9" width="1.4" height="0.9" fill="#1f3d25"/><rect x="458.7" y="577.7" width="1.7" height="1.8" fill="#77ad7f"/><rect x="446.2" y="473.5" width="2.9" height="1.1" fill="#77ad7f"/><rect x="420.6" y="632.7" width="2.3" height="2.0" fill="#1f3d25"/><rect x="435.5" y="536.7" width="3.0" height="0.9" fill="#2a5a33"/><rect x="440.6" y="569.1" width="3.3" height="1.7" fill="#77ad7f"/><rect x="424.3" y="464.6" width="3.3" height="2.1" fill="#33473a"/><rect x="452.0" y="598.6" width="2.5" height="1.5" fill="#2a5a33"/><rect x="464.9" y="501.1" width="2.1" height="2.8" fill="#77ad7f"/><rect x="424.0" y="491.5" width="2.7" height="2.8" fill="#77ad7f"/><rect x="444.8" y="497.1" width="1.5" height="2.5" fill="#33473a"/><rect x="432.2" y="538.5" width="2.6" height="3.0" fill="#33473a"/><rect x="422.1" y="559.5" width="1.5" height="1.8" fill="#5c9966"/><rect x="451.3" y="555.0" width="1.4" height="0.9" fill="#33473a"/><rect x="457.8" y="543.0" width="3.2" height="3.3" fill="#1f3d25"/><rect x="455.6" y="465.4" width="1.6" height="2.2" fill="#1f3d25"/><rect x="442.8" y="630.7" width="1.1" height="2.6" fill="#5c9966"/><rect x="415.1" y="624.9" width="1.6" height="3.1" fill="#1f3d25"/><rect x="443.2" y="605.8" width="2.6" height="1.7" fill="#4f8a58"/><rect x="462.7" y="565.6" width="2.9" height="1.2" fill="#33473a"/><rect x="458.7" y="552.0" width="2.1" height="2.1" fill="#4f8a58"/><rect x="417.9" y="551.3" width="2.1" height="1.1" fill="#8aa790"/><rect x="426.3" y="485.8" width="2.2" height="2.6" fill="#a8b5aa"/><rect x="458.6" y="524.3" width="2.5" height="1.4" fill="#1f3d25"/><rect x="476.6" y="491.9" width="1.4" height="1.0" fill="#4f8a58"/><rect x="444.1" y="510.2" width="2.8" height="1.8" fill="#33473a"/><rect x="467.6" y="585.8" width="3.2" height="2.2" fill="#5c9966"/><rect x="424.9" y="465.2" width="0.8" height="2.9" fill="#77ad7f"/><rect x="426.5" y="615.0" width="3.2" height="2.1" fill="#1f3d25"/><rect x="450.0" y="459.5" width="2.9" height="2.9" fill="#33473a"/><rect x="470.9" y="565.5" width="2.7" height="3.1" fill="#8aa790"/><rect x="416.4" y="614.2" width="3.5" height="1.3" fill="#77ad7f"/><rect x="461.7" y="491.2" width="2.2" height="3.2" fill="#2a5a33"/><rect x="429.8" y="455.6" width="2.0" height="1.6" fill="#a8b5aa"/><rect x="441.2" y="593.9" width="1.1" height="1.8" fill="#8aa790"/><rect x="429.5" y="527.5" width="2.0" height="1.9" fill="#5c9966"/><rect x="433.4" y="549.5" width="1.3" height="2.7" fill="#1f3d25"/><rect x="466.1" y="611.7" width="3.3" height="2.9" fill="#a8b5aa"/><rect x="470.2" y="617.0" width="2.3" height="3.0" fill="#33473a"/><rect x="464.1" y="491.5" width="2.4" height="2.7" fill="#5c9966"/><rect x="427.9" y="551.0" width="3.1" height="1.8" fill="#77ad7f"/><rect x="462.5" y="532.9" width="3.0" height="2.5" fill="#2a5a33"/><rect x="415.5" y="481.8" width="1.9" height="1.1" fill="#5c9966"/><rect x="462.0" y="539.0" width="3.0" height="3.2" fill="#77ad7f"/><rect x="447.7" y="521.2" width="3.5" height="2.8" fill="#4f8a58"/><rect x="465.7" y="541.0" width="3.0" height="2.0" fill="#4f8a58"/><rect x="455.7" y="551.7" width="1.3" height="2.0" fill="#33473a"/><rect x="480.5" y="458.0" width="2.1" height="1.1" fill="#77ad7f"/><rect x="467.0" y="542.1" width="1.0" height="2.6" fill="#4f8a58"/><rect x="421.3" y="586.4" width="1.9" height="1.7" fill="#5c9966"/><rect x="435.7" y="577.0" width="1.1" height="2.2" fill="#77ad7f"/><rect x="466.2" y="611.8" width="2.6" height="1.0" fill="#33473a"/><rect x="449.4" y="539.5" width="2.0" height="1.2" fill="#1f3d25"/><rect x="456.3" y="558.0" width="3.4" height="2.2" fill="#1f3d25"/><rect x="470.7" y="561.2" width="1.0" height="1.8" fill="#a8b5aa"/><rect x="421.4" y="517.2" width="3.4" height="1.0" fill="#4f8a58"/><rect x="473.3" y="519.1" width="1.1" height="1.7" fill="#33473a"/><rect x="437.0" y="578.5" width="2.0" height="3.2" fill="#5c9966"/><rect x="454.9" y="615.1" width="1.6" height="2.0" fill="#4f8a58"/><rect x="449.4" y="471.8" width="2.2" height="3.2" fill="#a8b5aa"/><rect x="459.0" y="565.7" width="1.9" height="2.0" fill="#2a5a33"/><rect x="419.2" y="513.1" width="0.9" height="2.9" fill="#a8b5aa"/><rect x="455.4" y="561.3" width="1.3" height="2.0" fill="#1f3d25"/><rect x="417.8" y="474.6" width="2.8" height="3.2" fill="#77ad7f"/><rect x="476.8" y="508.1" width="1.6" height="2.0" fill="#8aa790"/><rect x="417.3" y="537.2" width="1.2" height="1.7" fill="#a8b5aa"/><rect x="471.4" y="566.5" width="3.1" height="1.3" fill="#33473a"/><rect x="481.8" y="607.9" width="1.0" height="2.0" fill="#1f3d25"/><rect x="439.8" y="596.1" width="3.3" height="3.3" fill="#a8b5aa"/><rect x="441.9" y="535.9" width="1.5" height="1.2" fill="#33473a"/><rect x="438.9" y="487.6" width="3.5" height="0.8" fill="#a8b5aa"/><rect x="436.1" y="490.1" width="1.2" height="3.3" fill="#33473a"/><rect x="422.9" y="523.1" width="1.3" height="1.3" fill="#a8b5aa"/><rect x="431.3" y="544.9" width="2.4" height="2.2" fill="#77ad7f"/><rect x="467.2" y="510.2" width="1.7" height="2.5" fill="#2a5a33"/><rect x="471.7" y="457.3" width="1.3" height="0.9" fill="#33473a"/><rect x="450.2" y="463.2" width="1.4" height="3.5" fill="#4f8a58"/>

</g>
<polygon points="417,456 423,451 462,488 462,499 417,464" fill="#3f9a4a"/><polygon points="417,464 462,499 462,508 417,472" fill="#161616"/>
<g fill="#c9c08a"><rect x="404" y="458" width="14" height="3" transform="rotate(-15 411 459)"/><rect x="408" y="480" width="10" height="3" transform="rotate(-15 413 481)"/><rect x="444" y="510" width="10" height="3" transform="rotate(-15 449 511)"/></g>
<polygon points="415.5,516 447,548 447,593 415.5,561" fill="#1a1a1a"/>
<polygon points="418,521 445,549 445,588 418,560" fill="#bdbdc1"/>
<polygon points="422,530 441,550 441,580 422,560" fill="none" stroke="#8d8d92" stroke-width="0.8"/>
<rect x="470.5" y="533" width="10.5" height="30" fill="#e3e3e3"/>
<rect x="473" y="538" width="5" height="20" fill="#b0aa96"/>
<polygon points="445,583 452,572 481,572 481,583" fill="#b9bfbd"/>
<rect x="445" y="583" width="36" height="15.5" fill="#dfe0e2"/>
<rect x="445" y="598.5" width="36" height="2.5" fill="#9a9c9f"/>
<rect x="445" y="601" width="36" height="17.5" fill="#d9dadc"/>
<rect x="457" y="586" width="10" height="10" fill="#1a1a1a"/>
<rect x="468.5" y="583.5" width="5" height="12" fill="#3a6fb8"/><rect x="475" y="583.5" width="5" height="12" fill="#3a6fb8"/>
<rect x="457" y="606" width="10" height="9.5" fill="#1a1a1a"/>
<rect x="468.5" y="601" width="5" height="12" fill="#3a6fb8"/><rect x="475" y="601" width="5" height="12" fill="#3a6fb8"/>
<rect x="447.5" y="618.5" width="33.5" height="29" fill="#2a2a2a"/>
<rect x="453" y="621" width="11" height="25" fill="#c9cacc"/><rect x="455.5" y="624" width="6" height="19" rx="1" fill="#444"/>
<rect x="470" y="621" width="10" height="25" fill="#c9cacc"/><rect x="472.5" y="624" width="5.5" height="19" rx="1" fill="#444"/>
<polygon points="449,647.5 470,647.5 472,668 462,672 449,664" fill="#1c1c1c"/>
<polygon points="470,647.5 492,650 492,666 482,670 472,668" fill="#222"/>
<rect x="468.5" y="662" width="3" height="6" fill="#c8782e"/><rect x="484.5" y="660" width="3.5" height="6" fill="#c8782e"/>
<!-- USB dongle -->
<rect x="453" y="449.5" width="19.4" height="39.8" rx="2" fill="#1d1d1f"/>
<circle cx="465" cy="455.5" r="1.6" fill="#cfd6b0"/>
<rect x="456" y="489" width="14" height="14" fill="#d9dadc"/>
<!-- expansion case -->
<polygon points="535.6,419.5 555,414.6 555,575.6 535.6,569" fill="#72757f"/>
<rect x="553.5" y="415" width="1.2" height="160" fill="#a9acb2"/>
<polygon points="555,414.6 624.5,473 619,637 598,637 598,611 555,575.6" fill="url(#caseg)"/>
<g fill="#fff" opacity="0.5"><circle cx="560" cy="424" r="1.3"/><circle cx="608" cy="468" r="1.5"/></g>
<polygon points="601.0,474 625.0,474 619.0,638 597.5,638" fill="#1c1c1c"/><polygon points="604.8,485 620.6,485 619.9,504 604.4,504" fill="#7f8289"/><polygon points="604.3,506 619.8,506 619.1,525 603.9,525" fill="#84878e"/><polygon points="603.9,527 619.0,527 618.3,546 603.5,546" fill="#878a91"/><polygon points="603.4,548 618.3,548 617.6,565.5 603.0,565.5" fill="#898c93"/><polygon points="603.0,569 617.5,569 615.2,632 601.6,632" fill="#8e9197"/><polygon points="601.8,623 615.5,623 615.2,632 601.6,632" fill="#f4f4f4"/><rect x="601.1" y="570.0" width="1.6" height="1.2" fill="#666"/><rect x="617.7" y="570.0" width="1.6" height="1.2" fill="#666"/><rect x="601.1" y="572.6" width="1.6" height="1.2" fill="#666"/><rect x="617.6" y="572.6" width="1.6" height="1.2" fill="#666"/><rect x="601.0" y="575.2" width="1.6" height="1.2" fill="#666"/><rect x="617.5" y="575.2" width="1.6" height="1.2" fill="#666"/><rect x="601.0" y="577.8" width="1.6" height="1.2" fill="#666"/><rect x="617.4" y="577.8" width="1.6" height="1.2" fill="#666"/><rect x="600.9" y="580.4" width="1.6" height="1.2" fill="#666"/><rect x="617.3" y="580.4" width="1.6" height="1.2" fill="#666"/><rect x="600.9" y="583.0" width="1.6" height="1.2" fill="#666"/><rect x="617.2" y="583.0" width="1.6" height="1.2" fill="#666"/><rect x="600.8" y="585.6" width="1.6" height="1.2" fill="#666"/><rect x="617.1" y="585.6" width="1.6" height="1.2" fill="#666"/><rect x="600.7" y="588.2" width="1.6" height="1.2" fill="#666"/><rect x="617.0" y="588.2" width="1.6" height="1.2" fill="#666"/><rect x="600.7" y="590.8" width="1.6" height="1.2" fill="#666"/><rect x="616.9" y="590.8" width="1.6" height="1.2" fill="#666"/><rect x="600.6" y="593.4" width="1.6" height="1.2" fill="#666"/><rect x="616.8" y="593.4" width="1.6" height="1.2" fill="#666"/><rect x="600.6" y="596.0" width="1.6" height="1.2" fill="#666"/><rect x="616.7" y="596.0" width="1.6" height="1.2" fill="#666"/><rect x="600.5" y="598.6" width="1.6" height="1.2" fill="#666"/><rect x="616.6" y="598.6" width="1.6" height="1.2" fill="#666"/><rect x="600.5" y="601.2" width="1.6" height="1.2" fill="#666"/><rect x="616.5" y="601.2" width="1.6" height="1.2" fill="#666"/><rect x="600.4" y="603.8" width="1.6" height="1.2" fill="#666"/><rect x="616.4" y="603.8" width="1.6" height="1.2" fill="#666"/><rect x="600.4" y="606.4" width="1.6" height="1.2" fill="#666"/><rect x="616.3" y="606.4" width="1.6" height="1.2" fill="#666"/><rect x="600.3" y="609.0" width="1.6" height="1.2" fill="#666"/><rect x="616.2" y="609.0" width="1.6" height="1.2" fill="#666"/><rect x="600.2" y="611.6" width="1.6" height="1.2" fill="#666"/><rect x="616.1" y="611.6" width="1.6" height="1.2" fill="#666"/><rect x="600.2" y="614.2" width="1.6" height="1.2" fill="#666"/><rect x="616.0" y="614.2" width="1.6" height="1.2" fill="#666"/><rect x="600.1" y="616.8" width="1.6" height="1.2" fill="#666"/><rect x="615.9" y="616.8" width="1.6" height="1.2" fill="#666"/><rect x="600.1" y="619.4" width="1.6" height="1.2" fill="#666"/><rect x="615.8" y="619.4" width="1.6" height="1.2" fill="#666"/><rect x="600.0" y="622.0" width="1.6" height="1.2" fill="#666"/><rect x="615.8" y="622.0" width="1.6" height="1.2" fill="#666"/><rect x="600.0" y="624.6" width="1.6" height="1.2" fill="#666"/><rect x="615.7" y="624.6" width="1.6" height="1.2" fill="#666"/><rect x="599.9" y="627.2" width="1.6" height="1.2" fill="#666"/><rect x="615.6" y="627.2" width="1.6" height="1.2" fill="#666"/>
<!-- expansion PCB -->
<polygon points="484.4,438.6 547.6,491.8 547.6,585 532,642 484.4,597" fill="#3f984a"/>
<g clip-path="url(#cpExp)"><rect x="513.0" y="553.9" width="2.8" height="1.8" fill="#9fd0a2"/><rect x="495.8" y="544.0" width="2.2" height="2.5" fill="#8acb8d"/><rect x="512.6" y="467.4" width="2.0" height="2.8" fill="#6dbb72"/><rect x="522.1" y="520.0" width="1.8" height="2.4" fill="#2f7a3a"/><rect x="523.9" y="610.2" width="0.9" height="0.9" fill="#9fd0a2"/><rect x="522.4" y="599.1" width="1.5" height="2.1" fill="#9fd0a2"/><rect x="517.2" y="570.5" width="1.9" height="2.3" fill="#3a8a44"/><rect x="525.9" y="522.2" width="2.0" height="2.8" fill="#8acb8d"/><rect x="529.3" y="503.3" width="1.3" height="1.4" fill="#8acb8d"/><rect x="520.0" y="460.3" width="1.0" height="1.4" fill="#8acb8d"/><rect x="545.3" y="613.4" width="0.8" height="1.3" fill="#6dbb72"/><rect x="514.1" y="640.9" width="1.7" height="1.0" fill="#9fd0a2"/><rect x="533.8" y="493.8" width="1.0" height="1.5" fill="#b6d8b8"/><rect x="532.5" y="462.4" width="1.3" height="1.0" fill="#6dbb72"/><rect x="513.8" y="538.8" width="2.3" height="1.2" fill="#9fd0a2"/><rect x="547.1" y="597.3" width="1.7" height="1.6" fill="#b6d8b8"/><rect x="510.9" y="482.1" width="1.4" height="2.9" fill="#2e6e37"/><rect x="547.9" y="442.1" width="1.2" height="3.0" fill="#8acb8d"/><rect x="486.7" y="468.3" width="1.8" height="0.8" fill="#5cb464"/><rect x="537.1" y="517.9" width="1.0" height="1.3" fill="#9fd0a2"/><rect x="485.0" y="514.3" width="2.2" height="1.1" fill="#3a8a44"/><rect x="537.3" y="466.1" width="1.6" height="2.2" fill="#2e6e37"/><rect x="542.1" y="607.3" width="1.3" height="1.2" fill="#9fd0a2"/><rect x="528.0" y="518.4" width="1.9" height="1.0" fill="#6dbb72"/><rect x="490.6" y="446.0" width="2.9" height="1.3" fill="#b6d8b8"/><rect x="500.4" y="608.5" width="2.1" height="1.4" fill="#2f7a3a"/><rect x="543.5" y="640.3" width="1.1" height="1.9" fill="#8acb8d"/><rect x="501.9" y="627.9" width="1.2" height="0.8" fill="#2e6e37"/><rect x="510.3" y="489.6" width="0.9" height="1.4" fill="#2f7a3a"/><rect x="489.9" y="466.7" width="1.8" height="1.5" fill="#2f7a3a"/><rect x="521.8" y="629.2" width="1.8" height="1.6" fill="#2e6e37"/><rect x="545.6" y="442.4" width="2.2" height="1.9" fill="#2e6e37"/><rect x="504.4" y="644.9" width="1.0" height="2.0" fill="#6dbb72"/><rect x="541.6" y="590.6" width="2.3" height="2.5" fill="#5cb464"/><rect x="506.5" y="579.8" width="2.8" height="2.7" fill="#b6d8b8"/><rect x="544.4" y="444.3" width="1.9" height="0.8" fill="#b6d8b8"/><rect x="508.3" y="440.6" width="1.0" height="1.0" fill="#8acb8d"/><rect x="547.6" y="620.1" width="2.4" height="1.7" fill="#3a8a44"/><rect x="512.2" y="611.5" width="1.0" height="2.5" fill="#6dbb72"/><rect x="503.9" y="456.2" width="0.8" height="2.9" fill="#8acb8d"/><rect x="515.8" y="565.2" width="2.8" height="1.4" fill="#6dbb72"/><rect x="507.5" y="467.6" width="2.1" height="1.9" fill="#5cb464"/><rect x="526.2" y="529.5" width="2.8" height="1.5" fill="#2e6e37"/><rect x="496.7" y="527.2" width="2.6" height="2.8" fill="#9fd0a2"/><rect x="508.6" y="558.7" width="1.5" height="1.1" fill="#3a8a44"/><rect x="506.4" y="623.4" width="0.9" height="0.9" fill="#2e6e37"/><rect x="536.6" y="461.4" width="1.8" height="2.8" fill="#b6d8b8"/><rect x="508.5" y="545.6" width="2.3" height="2.4" fill="#3a8a44"/><rect x="504.5" y="609.5" width="1.4" height="2.1" fill="#2e6e37"/><rect x="520.5" y="502.0" width="2.5" height="0.8" fill="#2f7a3a"/><rect x="509.9" y="477.3" width="2.5" height="1.4" fill="#2f7a3a"/><rect x="535.0" y="641.7" width="1.1" height="1.0" fill="#5cb464"/><rect x="545.3" y="579.7" width="1.2" height="1.8" fill="#2f7a3a"/><rect x="529.7" y="594.3" width="2.0" height="0.9" fill="#9fd0a2"/><rect x="501.4" y="509.6" width="2.3" height="1.9" fill="#2f7a3a"/><rect x="509.2" y="601.9" width="2.8" height="1.0" fill="#b6d8b8"/><rect x="492.3" y="531.9" width="2.2" height="2.8" fill="#b6d8b8"/><rect x="519.2" y="573.1" width="1.9" height="2.6" fill="#5cb464"/><rect x="513.7" y="572.8" width="1.3" height="2.4" fill="#8acb8d"/><rect x="497.7" y="624.3" width="3.0" height="3.0" fill="#5cb464"/><rect x="500.8" y="586.7" width="0.8" height="1.9" fill="#6dbb72"/><rect x="512.2" y="551.9" width="2.5" height="1.9" fill="#6dbb72"/><rect x="498.0" y="617.6" width="1.7" height="0.9" fill="#5cb464"/><rect x="527.9" y="627.6" width="1.8" height="3.0" fill="#3a8a44"/><rect x="544.5" y="540.0" width="2.9" height="1.0" fill="#9fd0a2"/><rect x="512.1" y="553.7" width="2.6" height="2.0" fill="#2f7a3a"/><rect x="517.5" y="612.6" width="2.0" height="1.5" fill="#b6d8b8"/><rect x="545.1" y="618.1" width="2.1" height="1.5" fill="#2f7a3a"/><rect x="546.0" y="546.5" width="2.1" height="1.2" fill="#8acb8d"/><rect x="516.2" y="563.3" width="0.9" height="2.9" fill="#b6d8b8"/><rect x="518.8" y="642.8" width="1.1" height="1.0" fill="#2f7a3a"/><rect x="488.2" y="549.5" width="1.7" height="2.9" fill="#b6d8b8"/><rect x="501.2" y="535.9" width="1.1" height="1.8" fill="#3a8a44"/><rect x="517.6" y="460.5" width="1.7" height="0.9" fill="#2e6e37"/><rect x="492.3" y="599.3" width="0.9" height="1.2" fill="#9fd0a2"/><rect x="484.8" y="496.8" width="2.4" height="1.3" fill="#3a8a44"/><rect x="490.7" y="589.3" width="1.1" height="1.9" fill="#2e6e37"/><rect x="529.9" y="583.2" width="2.7" height="0.9" fill="#b6d8b8"/><rect x="536.8" y="565.5" width="2.0" height="2.7" fill="#9fd0a2"/><rect x="517.9" y="614.2" width="2.1" height="2.7" fill="#9fd0a2"/><rect x="542.5" y="568.0" width="1.6" height="1.2" fill="#5cb464"/><rect x="541.0" y="478.3" width="2.5" height="1.2" fill="#8acb8d"/><rect x="492.6" y="487.5" width="2.4" height="1.4" fill="#8acb8d"/><rect x="511.8" y="632.8" width="2.0" height="2.4" fill="#9fd0a2"/><rect x="509.8" y="579.8" width="0.8" height="1.2" fill="#5cb464"/><rect x="542.3" y="638.5" width="1.1" height="1.9" fill="#5cb464"/><rect x="516.2" y="579.9" width="1.2" height="1.0" fill="#8acb8d"/><rect x="485.6" y="595.7" width="2.1" height="2.8" fill="#3a8a44"/><rect x="493.4" y="476.2" width="1.2" height="2.6" fill="#2e6e37"/><rect x="543.3" y="457.7" width="0.9" height="2.9" fill="#3a8a44"/><rect x="489.0" y="458.0" width="1.7" height="1.7" fill="#5cb464"/><rect x="511.5" y="562.4" width="0.8" height="2.3" fill="#9fd0a2"/><rect x="495.6" y="532.0" width="2.4" height="1.7" fill="#9fd0a2"/><rect x="522.7" y="457.6" width="2.5" height="1.5" fill="#8acb8d"/><rect x="535.3" y="583.9" width="2.7" height="2.2" fill="#b6d8b8"/><rect x="520.5" y="477.5" width="2.1" height="1.6" fill="#2e6e37"/><rect x="501.9" y="462.1" width="2.4" height="1.2" fill="#b6d8b8"/><rect x="492.5" y="506.3" width="2.0" height="1.6" fill="#b6d8b8"/><rect x="533.0" y="522.0" width="2.4" height="1.0" fill="#5cb464"/><rect x="503.3" y="458.9" width="2.8" height="3.0" fill="#6dbb72"/><rect x="498.9" y="633.5" width="2.3" height="1.5" fill="#b6d8b8"/><rect x="520.5" y="548.3" width="1.7" height="3.0" fill="#9fd0a2"/><rect x="528.9" y="595.7" width="3.0" height="0.9" fill="#8acb8d"/><rect x="531.3" y="491.1" width="1.7" height="0.9" fill="#9fd0a2"/><rect x="525.5" y="440.2" width="1.4" height="1.4" fill="#5cb464"/><rect x="519.2" y="543.1" width="2.9" height="2.0" fill="#8acb8d"/><rect x="524.8" y="605.6" width="1.0" height="2.1" fill="#6dbb72"/><rect x="508.7" y="632.3" width="1.6" height="2.9" fill="#3a8a44"/><rect x="518.7" y="561.5" width="1.7" height="1.9" fill="#2e6e37"/><rect x="517.7" y="561.8" width="1.6" height="1.4" fill="#2e6e37"/><rect x="519.9" y="496.7" width="2.4" height="1.5" fill="#6dbb72"/><rect x="533.4" y="559.3" width="2.2" height="1.7" fill="#b6d8b8"/><rect x="487.4" y="503.2" width="1.7" height="2.1" fill="#5cb464"/><rect x="488.7" y="625.4" width="1.7" height="1.9" fill="#9fd0a2"/><rect x="486.9" y="458.4" width="2.6" height="2.8" fill="#2f7a3a"/><rect x="546.6" y="607.1" width="2.1" height="1.1" fill="#b6d8b8"/><rect x="513.2" y="480.2" width="0.9" height="2.0" fill="#8acb8d"/><rect x="507.3" y="466.9" width="1.7" height="2.1" fill="#b6d8b8"/><rect x="507.3" y="592.0" width="2.6" height="1.1" fill="#2e6e37"/><rect x="531.0" y="487.4" width="1.1" height="2.8" fill="#5cb464"/><rect x="501.6" y="564.2" width="2.4" height="2.3" fill="#9fd0a2"/><rect x="524.5" y="593.9" width="1.2" height="1.3" fill="#9fd0a2"/><rect x="540.2" y="446.2" width="0.9" height="1.4" fill="#b6d8b8"/><rect x="485.7" y="445.9" width="1.3" height="1.4" fill="#8acb8d"/><rect x="542.4" y="471.3" width="1.3" height="3.0" fill="#3a8a44"/><rect x="514.6" y="481.6" width="1.6" height="2.4" fill="#8acb8d"/><rect x="535.3" y="530.6" width="2.6" height="2.6" fill="#9fd0a2"/><rect x="512.4" y="592.7" width="1.7" height="1.1" fill="#2f7a3a"/><rect x="525.8" y="642.8" width="1.5" height="2.0" fill="#2f7a3a"/><rect x="511.4" y="514.4" width="1.0" height="2.7" fill="#8acb8d"/><rect x="518.8" y="527.4" width="2.0" height="2.6" fill="#3a8a44"/><rect x="503.1" y="598.5" width="1.0" height="1.3" fill="#8acb8d"/><rect x="528.5" y="540.4" width="2.5" height="1.5" fill="#2f7a3a"/><rect x="498.0" y="574.1" width="1.5" height="2.8" fill="#5cb464"/><rect x="529.4" y="555.8" width="2.8" height="2.9" fill="#2e6e37"/><rect x="512.0" y="604.2" width="1.5" height="1.5" fill="#b6d8b8"/><rect x="545.9" y="589.1" width="1.9" height="1.0" fill="#5cb464"/><rect x="485.5" y="578.1" width="2.1" height="2.6" fill="#5cb464"/><rect x="535.0" y="549.9" width="2.6" height="2.0" fill="#2f7a3a"/><rect x="489.7" y="532.1" width="2.7" height="2.6" fill="#9fd0a2"/><rect x="517.0" y="550.6" width="2.0" height="2.9" fill="#b6d8b8"/><rect x="488.1" y="551.2" width="2.5" height="1.0" fill="#8acb8d"/><rect x="501.5" y="459.8" width="1.5" height="0.9" fill="#2f7a3a"/><rect x="490.2" y="607.0" width="1.7" height="2.4" fill="#3a8a44"/><rect x="533.0" y="546.0" width="2.5" height="1.7" fill="#5cb464"/><rect x="535.7" y="506.9" width="1.1" height="1.9" fill="#8acb8d"/><rect x="529.3" y="627.4" width="1.7" height="2.6" fill="#5cb464"/><rect x="538.6" y="604.8" width="2.6" height="2.8" fill="#6dbb72"/><rect x="517.5" y="585.0" width="2.6" height="1.7" fill="#b6d8b8"/><rect x="542.6" y="488.9" width="1.2" height="2.2" fill="#2f7a3a"/><rect x="504.5" y="518.6" width="2.0" height="1.4" fill="#6dbb72"/><rect x="514.2" y="589.3" width="1.5" height="1.1" fill="#2f7a3a"/><rect x="542.4" y="593.9" width="0.8" height="1.9" fill="#6dbb72"/><rect x="504.0" y="478.9" width="1.6" height="2.1" fill="#3a8a44"/><rect x="522.1" y="484.4" width="1.2" height="1.4" fill="#2f7a3a"/><rect x="542.3" y="632.0" width="2.2" height="2.9" fill="#3a8a44"/><rect x="538.6" y="538.3" width="1.7" height="2.9" fill="#8acb8d"/><rect x="514.9" y="483.7" width="0.9" height="2.9" fill="#b6d8b8"/><rect x="546.5" y="602.5" width="2.5" height="2.5" fill="#6dbb72"/><rect x="526.1" y="487.2" width="0.8" height="1.8" fill="#5cb464"/><rect x="512.8" y="489.0" width="1.7" height="2.7" fill="#b6d8b8"/><rect x="494.0" y="504.6" width="1.4" height="2.7" fill="#2f7a3a"/><rect x="524.8" y="643.6" width="1.4" height="2.0" fill="#2f7a3a"/><rect x="520.6" y="474.9" width="1.2" height="2.8" fill="#2f7a3a"/><rect x="536.6" y="455.1" width="1.4" height="2.4" fill="#8acb8d"/><rect x="540.9" y="581.6" width="1.0" height="2.4" fill="#2e6e37"/><rect x="485.2" y="476.9" width="1.2" height="2.3" fill="#3a8a44"/><rect x="497.3" y="550.5" width="2.0" height="1.1" fill="#2e6e37"/><rect x="504.2" y="521.9" width="2.0" height="3.0" fill="#8acb8d"/><rect x="507.0" y="580.2" width="1.0" height="1.7" fill="#3a8a44"/><rect x="531.8" y="600.4" width="1.1" height="1.8" fill="#b6d8b8"/><rect x="529.6" y="536.4" width="1.4" height="1.0" fill="#6dbb72"/><rect x="538.8" y="612.8" width="2.4" height="2.8" fill="#2f7a3a"/><rect x="502.6" y="515.8" width="2.0" height="1.5" fill="#5cb464"/><rect x="532.3" y="553.0" width="1.0" height="1.2" fill="#b6d8b8"/><rect x="530.8" y="506.2" width="2.9" height="2.0" fill="#5cb464"/><rect x="512.6" y="517.2" width="1.0" height="2.2" fill="#2f7a3a"/><rect x="527.4" y="584.6" width="1.2" height="1.7" fill="#3a8a44"/><rect x="521.9" y="456.7" width="1.3" height="1.1" fill="#8acb8d"/><rect x="511.8" y="597.6" width="1.6" height="2.6" fill="#2f7a3a"/><rect x="525.4" y="596.7" width="2.6" height="1.6" fill="#5cb464"/><rect x="543.0" y="567.0" width="2.4" height="2.1" fill="#5cb464"/><rect x="546.8" y="601.5" width="2.3" height="2.1" fill="#6dbb72"/><rect x="500.7" y="477.1" width="1.5" height="1.8" fill="#b6d8b8"/><rect x="497.1" y="506.9" width="1.4" height="1.0" fill="#2f7a3a"/><rect x="500.2" y="549.5" width="1.5" height="1.3" fill="#2f7a3a"/><rect x="520.7" y="479.0" width="2.9" height="3.0" fill="#9fd0a2"/><rect x="520.3" y="443.5" width="2.3" height="2.5" fill="#2f7a3a"/><rect x="499.7" y="557.3" width="2.3" height="1.5" fill="#5cb464"/><rect x="501.0" y="620.8" width="1.8" height="2.4" fill="#9fd0a2"/><rect x="541.9" y="550.5" width="2.0" height="2.0" fill="#2e6e37"/><rect x="494.8" y="592.4" width="2.8" height="1.5" fill="#2f7a3a"/><rect x="491.8" y="608.7" width="1.4" height="2.8" fill="#9fd0a2"/><rect x="532.5" y="513.2" width="1.2" height="2.1" fill="#8acb8d"/><rect x="513.1" y="521.5" width="2.5" height="2.8" fill="#2f7a3a"/><rect x="503.7" y="576.9" width="2.4" height="1.6" fill="#6dbb72"/><rect x="494.1" y="523.3" width="0.9" height="2.0" fill="#8acb8d"/><rect x="520.4" y="474.0" width="1.9" height="1.4" fill="#5cb464"/><rect x="487.4" y="600.3" width="2.4" height="2.5" fill="#b6d8b8"/><rect x="545.4" y="562.2" width="1.8" height="1.7" fill="#b6d8b8"/><rect x="532.1" y="538.6" width="3.0" height="2.6" fill="#b6d8b8"/><rect x="536.8" y="462.3" width="1.1" height="2.9" fill="#5cb464"/><rect x="517.6" y="527.5" width="2.8" height="1.5" fill="#6dbb72"/><rect x="502.9" y="565.6" width="1.8" height="1.6" fill="#5cb464"/><rect x="532.1" y="501.1" width="2.1" height="1.0" fill="#8acb8d"/><rect x="538.0" y="488.2" width="2.7" height="2.9" fill="#3a8a44"/><rect x="528.5" y="546.9" width="1.3" height="1.5" fill="#b6d8b8"/><rect x="544.2" y="620.1" width="3.0" height="2.4" fill="#5cb464"/><rect x="539.5" y="525.2" width="2.6" height="1.3" fill="#b6d8b8"/><rect x="520.3" y="625.0" width="1.0" height="2.5" fill="#8acb8d"/><rect x="540.5" y="557.2" width="1.8" height="1.5" fill="#2e6e37"/><rect x="485.5" y="473.6" width="1.8" height="1.8" fill="#b6d8b8"/><rect x="493.0" y="581.3" width="1.3" height="1.5" fill="#3a8a44"/><rect x="541.5" y="501.7" width="1.9" height="2.9" fill="#3a8a44"/><rect x="540.2" y="480.0" width="2.7" height="2.3" fill="#6dbb72"/><rect x="496.5" y="611.4" width="1.6" height="1.8" fill="#2f7a3a"/><rect x="524.7" y="582.5" width="2.0" height="2.0" fill="#9fd0a2"/><rect x="496.3" y="620.2" width="0.9" height="1.0" fill="#5cb464"/><rect x="545.5" y="494.7" width="1.7" height="2.7" fill="#5cb464"/><rect x="528.5" y="632.1" width="1.8" height="1.0" fill="#9fd0a2"/><rect x="539.1" y="463.0" width="2.3" height="1.4" fill="#9fd0a2"/><rect x="516.1" y="499.2" width="1.4" height="2.6" fill="#8acb8d"/><rect x="521.8" y="485.4" width="1.5" height="2.8" fill="#9fd0a2"/><rect x="501.7" y="570.5" width="1.0" height="3.0" fill="#3a8a44"/><rect x="542.7" y="453.3" width="2.8" height="0.8" fill="#2e6e37"/><rect x="518.4" y="525.7" width="2.1" height="1.2" fill="#9fd0a2"/><rect x="499.7" y="495.8" width="2.0" height="1.2" fill="#2f7a3a"/><rect x="547.2" y="445.0" width="1.8" height="2.5" fill="#b6d8b8"/><rect x="484.2" y="622.6" width="0.9" height="0.9" fill="#5cb464"/><rect x="504.5" y="538.1" width="0.9" height="1.4" fill="#2f7a3a"/><rect x="522.0" y="597.6" width="1.0" height="1.8" fill="#3a8a44"/><rect x="519.1" y="491.0" width="2.4" height="2.4" fill="#2e6e37"/><rect x="515.3" y="483.8" width="2.1" height="1.9" fill="#6dbb72"/><rect x="497.0" y="638.9" width="0.9" height="1.8" fill="#2f7a3a"/><rect x="504.8" y="563.9" width="2.1" height="2.6" fill="#3a8a44"/><rect x="530.3" y="615.3" width="0.9" height="1.1" fill="#2f7a3a"/><rect x="520.4" y="550.5" width="2.5" height="1.3" fill="#2f7a3a"/><rect x="487.5" y="526.0" width="2.3" height="2.6" fill="#2e6e37"/><rect x="533.0" y="541.2" width="2.2" height="1.9" fill="#b6d8b8"/><rect x="500.3" y="471.1" width="2.3" height="2.6" fill="#3a8a44"/><rect x="487.9" y="523.0" width="1.6" height="1.3" fill="#6dbb72"/><rect x="492.2" y="594.4" width="2.1" height="1.1" fill="#3a8a44"/><rect x="517.4" y="642.0" width="0.8" height="1.7" fill="#2f7a3a"/><rect x="489.9" y="553.1" width="1.8" height="2.9" fill="#6dbb72"/><rect x="527.5" y="586.4" width="2.9" height="2.1" fill="#2e6e37"/><rect x="500.2" y="552.2" width="1.3" height="1.8" fill="#9fd0a2"/><rect x="507.3" y="507.8" width="3.0" height="2.1" fill="#6dbb72"/><rect x="494.3" y="559.1" width="3.0" height="2.4" fill="#2f7a3a"/><rect x="513.6" y="519.3" width="2.7" height="1.6" fill="#6dbb72"/><rect x="497.8" y="509.9" width="1.2" height="2.0" fill="#2f7a3a"/><rect x="514.7" y="520.8" width="2.1" height="2.5" fill="#3a8a44"/><rect x="512.6" y="643.6" width="2.3" height="2.7" fill="#9fd0a2"/><rect x="518.6" y="524.8" width="0.9" height="1.4" fill="#2e6e37"/><rect x="523.7" y="545.4" width="2.4" height="1.9" fill="#9fd0a2"/><rect x="501.2" y="512.7" width="1.1" height="2.9" fill="#5cb464"/><rect x="492.8" y="487.9" width="2.6" height="1.1" fill="#5cb464"/><rect x="537.7" y="531.1" width="2.7" height="1.6" fill="#2e6e37"/><rect x="533.3" y="545.5" width="0.9" height="1.7" fill="#9fd0a2"/><rect x="515.3" y="476.9" width="1.9" height="1.1" fill="#9fd0a2"/><rect x="504.0" y="525.8" width="2.0" height="1.1" fill="#2e6e37"/><rect x="504.1" y="531.5" width="1.6" height="2.7" fill="#2e6e37"/><rect x="518.2" y="531.0" width="1.1" height="1.9" fill="#5cb464"/><rect x="498.5" y="498.5" width="1.6" height="1.3" fill="#6dbb72"/><rect x="538.3" y="592.7" width="1.9" height="0.8" fill="#2e6e37"/><rect x="526.3" y="451.8" width="2.7" height="2.0" fill="#5cb464"/><rect x="526.7" y="635.7" width="2.7" height="1.3" fill="#2e6e37"/><rect x="489.8" y="526.5" width="1.7" height="0.9" fill="#b6d8b8"/><rect x="543.6" y="496.9" width="2.3" height="1.3" fill="#b6d8b8"/><rect x="496.9" y="597.0" width="1.6" height="2.4" fill="#8acb8d"/><rect x="531.5" y="625.9" width="2.6" height="1.9" fill="#2e6e37"/><rect x="528.9" y="552.5" width="2.3" height="0.9" fill="#b6d8b8"/><rect x="491.7" y="626.3" width="2.8" height="1.4" fill="#b6d8b8"/><rect x="515.7" y="559.3" width="1.8" height="1.5" fill="#2e6e37"/><rect x="488.6" y="445.3" width="1.5" height="1.6" fill="#2e6e37"/><rect x="500.8" y="576.3" width="1.2" height="1.8" fill="#5cb464"/><rect x="545.1" y="513.1" width="2.1" height="2.9" fill="#8acb8d"/><rect x="524.1" y="566.5" width="1.7" height="1.7" fill="#2e6e37"/><rect x="488.4" y="534.0" width="1.8" height="2.9" fill="#b6d8b8"/><rect x="486.4" y="466.1" width="1.9" height="1.5" fill="#5cb464"/><rect x="514.3" y="442.4" width="2.1" height="1.4" fill="#2e6e37"/><rect x="527.5" y="486.6" width="0.8" height="2.0" fill="#b6d8b8"/><rect x="484.2" y="551.2" width="2.7" height="2.5" fill="#8acb8d"/><rect x="524.0" y="554.1" width="2.6" height="2.9" fill="#5cb464"/><rect x="500.9" y="459.5" width="0.8" height="2.6" fill="#9fd0a2"/><rect x="528.5" y="580.1" width="2.9" height="2.6" fill="#2f7a3a"/><rect x="505.3" y="580.7" width="2.6" height="1.4" fill="#b6d8b8"/><rect x="502.3" y="593.0" width="2.0" height="1.3" fill="#9fd0a2"/><rect x="507.2" y="584.2" width="2.8" height="2.4" fill="#8acb8d"/><rect x="547.3" y="607.3" width="2.7" height="1.5" fill="#3a8a44"/><rect x="516.8" y="578.6" width="0.9" height="2.2" fill="#b6d8b8"/><rect x="539.7" y="449.1" width="1.4" height="1.9" fill="#b6d8b8"/><rect x="500.2" y="569.4" width="1.6" height="2.3" fill="#2f7a3a"/><rect x="505.4" y="595.2" width="2.7" height="2.6" fill="#b6d8b8"/><rect x="525.0" y="464.0" width="2.4" height="1.4" fill="#2f7a3a"/><rect x="492.0" y="516.0" width="2.3" height="1.3" fill="#2f7a3a"/><rect x="546.3" y="535.7" width="2.3" height="2.5" fill="#2f7a3a"/><rect x="501.2" y="494.1" width="1.4" height="2.3" fill="#b6d8b8"/><rect x="543.7" y="642.7" width="0.9" height="2.4" fill="#8acb8d"/><rect x="539.7" y="478.1" width="1.6" height="2.0" fill="#8acb8d"/><rect x="509.9" y="625.3" width="2.6" height="2.7" fill="#2f7a3a"/><rect x="507.9" y="502.0" width="2.6" height="2.6" fill="#2e6e37"/><rect x="498.3" y="587.4" width="1.7" height="1.1" fill="#b6d8b8"/><rect x="527.2" y="482.8" width="1.4" height="2.7" fill="#3a8a44"/><rect x="495.2" y="460.2" width="2.9" height="1.4" fill="#3a8a44"/><rect x="511.7" y="469.4" width="2.7" height="1.4" fill="#2f7a3a"/><rect x="501.5" y="520.8" width="1.5" height="1.0" fill="#9fd0a2"/><rect x="507.4" y="491.7" width="0.9" height="0.9" fill="#2e6e37"/><rect x="526.9" y="438.8" width="1.5" height="1.1" fill="#9fd0a2"/><rect x="547.5" y="522.6" width="0.9" height="1.6" fill="#b6d8b8"/><rect x="519.7" y="482.5" width="2.2" height="2.6" fill="#2e6e37"/><rect x="501.7" y="632.3" width="2.7" height="3.0" fill="#3a8a44"/><rect x="520.6" y="632.7" width="0.9" height="2.7" fill="#2f7a3a"/><rect x="518.5" y="577.7" width="1.4" height="0.9" fill="#2e6e37"/><rect x="488.0" y="534.4" width="2.8" height="0.9" fill="#5cb464"/><rect x="484.7" y="547.1" width="2.6" height="2.5" fill="#3a8a44"/><rect x="509.6" y="604.2" width="2.6" height="2.5" fill="#8acb8d"/><rect x="543.9" y="537.8" width="2.6" height="1.7" fill="#6dbb72"/><rect x="484.6" y="467.1" width="1.5" height="2.4" fill="#2e6e37"/><rect x="535.9" y="513.5" width="2.2" height="1.6" fill="#2e6e37"/><rect x="488.3" y="573.2" width="2.1" height="1.4" fill="#9fd0a2"/><rect x="531.5" y="481.7" width="2.4" height="2.0" fill="#9fd0a2"/><rect x="495.3" y="459.9" width="1.1" height="1.6" fill="#b6d8b8"/><rect x="485.4" y="520.7" width="0.9" height="1.0" fill="#9fd0a2"/><rect x="485.3" y="474.1" width="0.9" height="2.1" fill="#5cb464"/><rect x="511.5" y="637.3" width="1.3" height="1.7" fill="#2f7a3a"/><rect x="536.0" y="452.5" width="1.7" height="2.8" fill="#2f7a3a"/><rect x="533.8" y="546.7" width="0.8" height="2.4" fill="#b6d8b8"/><rect x="542.3" y="449.4" width="2.2" height="1.6" fill="#3a8a44"/><rect x="538.8" y="568.1" width="1.9" height="2.0" fill="#8acb8d"/><rect x="491.8" y="590.9" width="2.4" height="1.8" fill="#3a8a44"/><rect x="510.8" y="517.6" width="1.3" height="2.1" fill="#6dbb72"/><rect x="517.0" y="444.7" width="2.2" height="1.8" fill="#6dbb72"/><rect x="522.1" y="630.8" width="1.1" height="1.8" fill="#2e6e37"/><rect x="531.2" y="502.8" width="2.4" height="3.0" fill="#b6d8b8"/><rect x="487.4" y="638.4" width="2.5" height="2.8" fill="#8acb8d"/><rect x="499.0" y="611.9" width="2.2" height="2.9" fill="#8acb8d"/><rect x="535.1" y="543.9" width="3.0" height="0.9" fill="#6dbb72"/><rect x="529.5" y="489.9" width="2.6" height="1.8" fill="#6dbb72"/><rect x="539.4" y="478.6" width="1.4" height="2.2" fill="#8acb8d"/><rect x="490.9" y="529.2" width="2.5" height="2.7" fill="#8acb8d"/><rect x="535.2" y="615.0" width="2.5" height="2.0" fill="#8acb8d"/><rect x="535.0" y="469.4" width="1.6" height="1.0" fill="#6dbb72"/><rect x="543.4" y="635.7" width="1.3" height="1.4" fill="#b6d8b8"/><rect x="495.6" y="518.4" width="2.7" height="2.2" fill="#3a8a44"/><rect x="488.6" y="642.5" width="1.3" height="2.2" fill="#9fd0a2"/><rect x="519.8" y="643.8" width="1.6" height="2.6" fill="#5cb464"/><rect x="538.1" y="633.8" width="2.2" height="1.3" fill="#9fd0a2"/><rect x="495.6" y="464.5" width="2.3" height="1.8" fill="#2f7a3a"/><rect x="501.8" y="491.5" width="1.6" height="2.2" fill="#2e6e37"/><rect x="496.6" y="643.9" width="2.3" height="2.4" fill="#5cb464"/><rect x="539.7" y="597.3" width="1.2" height="1.0" fill="#2e6e37"/><rect x="511.2" y="607.8" width="1.7" height="1.8" fill="#8acb8d"/><rect x="544.3" y="509.7" width="2.3" height="1.3" fill="#8acb8d"/><rect x="502.2" y="618.6" width="1.4" height="2.7" fill="#3a8a44"/><rect x="498.4" y="536.8" width="1.2" height="1.7" fill="#9fd0a2"/><rect x="512.7" y="451.3" width="1.7" height="1.4" fill="#3a8a44"/><rect x="526.1" y="493.4" width="2.3" height="0.8" fill="#9fd0a2"/><rect x="485.0" y="515.6" width="2.1" height="2.7" fill="#b6d8b8"/><rect x="510.9" y="508.7" width="2.6" height="2.7" fill="#8acb8d"/><rect x="518.9" y="458.6" width="2.8" height="1.0" fill="#5cb464"/><rect x="485.0" y="444.3" width="2.1" height="2.3" fill="#6dbb72"/><rect x="526.8" y="470.2" width="1.0" height="1.2" fill="#5cb464"/><rect x="514.7" y="572.9" width="0.9" height="1.3" fill="#6dbb72"/><rect x="547.5" y="519.8" width="2.6" height="2.2" fill="#8acb8d"/><rect x="547.8" y="451.8" width="1.8" height="1.7" fill="#9fd0a2"/><rect x="517.1" y="558.9" width="1.9" height="2.6" fill="#b6d8b8"/><rect x="490.1" y="602.5" width="0.8" height="2.9" fill="#2e6e37"/><rect x="526.5" y="638.8" width="1.8" height="2.7" fill="#b6d8b8"/><rect x="514.0" y="441.3" width="2.7" height="2.9" fill="#6dbb72"/><rect x="491.0" y="523.5" width="2.0" height="2.9" fill="#8acb8d"/><rect x="503.3" y="543.0" width="1.1" height="2.0" fill="#2f7a3a"/><rect x="526.4" y="543.5" width="1.5" height="1.6" fill="#9fd0a2"/><rect x="499.8" y="523.7" width="0.9" height="1.3" fill="#3a8a44"/><rect x="494.9" y="459.6" width="1.1" height="2.8" fill="#2f7a3a"/><rect x="493.2" y="554.8" width="1.2" height="2.2" fill="#8acb8d"/><rect x="510.5" y="440.2" width="1.1" height="2.6" fill="#b6d8b8"/><rect x="494.0" y="547.9" width="0.9" height="1.0" fill="#2e6e37"/><rect x="542.4" y="550.4" width="2.5" height="2.5" fill="#b6d8b8"/><rect x="510.6" y="454.2" width="1.4" height="1.0" fill="#b6d8b8"/><rect x="505.0" y="539.2" width="2.2" height="2.8" fill="#2f7a3a"/><rect x="520.3" y="541.7" width="2.8" height="1.7" fill="#2e6e37"/><rect x="501.1" y="562.2" width="1.3" height="1.0" fill="#3a8a44"/><rect x="508.6" y="572.3" width="1.5" height="1.1" fill="#2e6e37"/><rect x="537.5" y="450.8" width="2.0" height="2.0" fill="#b6d8b8"/><rect x="536.4" y="577.7" width="2.4" height="0.9" fill="#5cb464"/><rect x="515.0" y="485.7" width="2.4" height="1.9" fill="#6dbb72"/><rect x="507.9" y="560.8" width="1.0" height="2.3" fill="#5cb464"/><rect x="545.5" y="513.7" width="2.1" height="1.6" fill="#2e6e37"/><rect x="497.4" y="595.9" width="0.9" height="1.2" fill="#8acb8d"/><rect x="517.0" y="594.0" width="0.9" height="1.0" fill="#2e6e37"/><rect x="521.7" y="605.2" width="2.9" height="2.2" fill="#5cb464"/><rect x="509.7" y="497.2" width="2.3" height="1.0" fill="#9fd0a2"/><rect x="537.2" y="505.9" width="1.5" height="2.6" fill="#2e6e37"/><rect x="525.1" y="449.7" width="2.5" height="0.9" fill="#8acb8d"/><rect x="519.3" y="630.0" width="2.2" height="0.8" fill="#9fd0a2"/><rect x="521.1" y="439.2" width="2.4" height="1.7" fill="#8acb8d"/><rect x="495.0" y="455.3" width="2.3" height="1.1" fill="#3a8a44"/><rect x="527.3" y="603.8" width="1.8" height="2.8" fill="#8acb8d"/><rect x="537.5" y="636.0" width="1.6" height="2.6" fill="#8acb8d"/><rect x="529.0" y="520.2" width="2.3" height="2.2" fill="#8acb8d"/><rect x="543.0" y="481.7" width="1.7" height="2.0" fill="#8acb8d"/><rect x="493.9" y="494.7" width="1.7" height="2.8" fill="#b6d8b8"/><rect x="496.8" y="583.5" width="1.9" height="1.8" fill="#b6d8b8"/><rect x="516.7" y="537.7" width="2.0" height="2.7" fill="#5cb464"/><rect x="496.9" y="509.7" width="1.2" height="1.6" fill="#b6d8b8"/><rect x="513.0" y="559.9" width="1.8" height="2.5" fill="#2f7a3a"/><rect x="514.8" y="641.0" width="1.5" height="2.3" fill="#9fd0a2"/><rect x="524.5" y="510.6" width="1.7" height="0.9" fill="#8acb8d"/><rect x="535.4" y="490.7" width="1.3" height="1.3" fill="#8acb8d"/><rect x="519.8" y="640.0" width="2.8" height="1.8" fill="#3a8a44"/><rect x="491.5" y="476.5" width="2.2" height="2.3" fill="#2f7a3a"/><rect x="486.2" y="582.6" width="2.0" height="2.0" fill="#5cb464"/><rect x="515.3" y="530.5" width="2.9" height="1.6" fill="#2e6e37"/><rect x="490.3" y="600.3" width="1.3" height="1.2" fill="#5cb464"/><rect x="491.7" y="596.3" width="2.1" height="2.8" fill="#5cb464"/><rect x="528.1" y="513.4" width="2.9" height="2.4" fill="#2e6e37"/><rect x="522.9" y="610.0" width="3.0" height="1.0" fill="#5cb464"/><rect x="485.3" y="549.2" width="1.4" height="1.4" fill="#2e6e37"/><rect x="519.9" y="492.4" width="1.0" height="0.9" fill="#2e6e37"/><rect x="544.4" y="469.5" width="1.7" height="2.6" fill="#2f7a3a"/><polygon points="484.4,438.6 547.6,491.8 547.6,496 484.4,443" fill="#5fbf66"/></g>
<polygon points="479.5,453 495,451 508,460 508,466 492,468 479.5,459" fill="#c3c5c8"/><polygon points="489,462 508,466 508,474 489,470" fill="#9fa2a6"/><polygon points="497,452 512,464 512,470 497,458" fill="#1a1a1a"/>
<g fill="#cfd1d3"><rect x="521.6" y="497.5" width="26" height="21"/><rect x="521.6" y="519.5" width="26" height="20.5"/><rect x="521.6" y="541" width="26" height="20"/><rect x="521.6" y="562" width="26" height="19.5"/></g>
<g fill="#161616"><rect x="537" y="504" width="9.5" height="11"/><rect x="537" y="525" width="9.5" height="11"/><rect x="537" y="546" width="9.5" height="11"/><rect x="537" y="567" width="9.5" height="11"/></g>
<rect x="508" y="585" width="9" height="8" fill="#222"/>
<rect x="484" y="600" width="14" height="8" fill="#bfbfbf" transform="rotate(30 491 604)"/>
<rect x="518" y="630" width="12" height="8" fill="#222" transform="rotate(35 524 634)"/>
<polygon points="531.8,586 538,582 553,586 553,651 538,651 531.8,645" fill="#262626"/>
<rect x="541" y="586" width="4.3" height="63" fill="#d9822f"/><rect x="546.8" y="586" width="4.3" height="63" fill="#d9822f"/><rect x="541" y="586.0" width="10.5" height="1.1" fill="#3a2a1a"/><rect x="541" y="588.2" width="10.5" height="1.1" fill="#3a2a1a"/><rect x="541" y="590.4" width="10.5" height="1.1" fill="#3a2a1a"/><rect x="541" y="592.6" width="10.5" height="1.1" fill="#3a2a1a"/><rect x="541" y="594.8" width="10.5" height="1.1" fill="#3a2a1a"/><rect x="541" y="597.0" width="10.5" height="1.1" fill="#3a2a1a"/><rect x="541" y="599.2" width="10.5" height="1.1" fill="#3a2a1a"/><rect x="541" y="601.4" width="10.5" height="1.1" fill="#3a2a1a"/><rect x="541" y="603.6" width="10.5" height="1.1" fill="#3a2a1a"/><rect x="541" y="605.8" width="10.5" height="1.1" fill="#3a2a1a"/><rect x="541" y="608.0" width="10.5" height="1.1" fill="#3a2a1a"/><rect x="541" y="610.2" width="10.5" height="1.1" fill="#3a2a1a"/><rect x="541" y="612.4" width="10.5" height="1.1" fill="#3a2a1a"/><rect x="541" y="614.6" width="10.5" height="1.1" fill="#3a2a1a"/><rect x="541" y="616.8" width="10.5" height="1.1" fill="#3a2a1a"/><rect x="541" y="619.0" width="10.5" height="1.1" fill="#3a2a1a"/><rect x="541" y="621.2" width="10.5" height="1.1" fill="#3a2a1a"/><rect x="541" y="623.4" width="10.5" height="1.1" fill="#3a2a1a"/><rect x="541" y="625.6" width="10.5" height="1.1" fill="#3a2a1a"/><rect x="541" y="627.8" width="10.5" height="1.1" fill="#3a2a1a"/><rect x="541" y="630.0" width="10.5" height="1.1" fill="#3a2a1a"/><rect x="541" y="632.2" width="10.5" height="1.1" fill="#3a2a1a"/><rect x="541" y="634.4" width="10.5" height="1.1" fill="#3a2a1a"/><rect x="541" y="636.6" width="10.5" height="1.1" fill="#3a2a1a"/><rect x="541" y="638.8" width="10.5" height="1.1" fill="#3a2a1a"/><rect x="541" y="641.0" width="10.5" height="1.1" fill="#3a2a1a"/><rect x="541" y="643.2" width="10.5" height="1.1" fill="#3a2a1a"/><rect x="541" y="645.4" width="10.5" height="1.1" fill="#3a2a1a"/><rect x="541" y="647.6" width="10.5" height="1.1" fill="#3a2a1a"/>
</g>
<!-- ===== leader lines ===== -->
<g fill="none" stroke="#dcb463" stroke-width="1">
<polyline points="148,443 403,443"/>
<polyline points="148,492.5 306,492.5"/>
<polyline points="148,528 319,528"/>
<polyline points="148,562.5 192,562.5"/>
<polyline points="148,603.5 373.5,603.5 373.5,575"/>
<polyline points="148,651.5 273.5,651.5 273.5,620"/>
<polyline points="148,689.5 428.5,689.5 428.5,606"/>
<polyline points="649,444 504,444 504,483"/>
<polyline points="649,483.5 530,483.5"/>
<polyline points="649,515 469.5,515 469.5,502"/>
<polyline points="649,564 428.5,564"/>
<polyline points="649,605.5 613,605.5"/>
<polyline points="649,650 472.5,650 472.5,612"/>
<polyline points="649,689.5 445.5,689.5 445.5,627"/>
</g>
<g fill="#f0a800" stroke="#f7e2b0" stroke-width="1">
<rect x="399.5" y="440" width="7" height="7"/>
<rect x="303" y="489" width="7" height="7"/>
<rect x="316" y="524.5" width="7" height="7"/>
<rect x="188.5" y="559.5" width="7" height="7"/>
<rect x="370" y="572" width="7" height="7"/>
<rect x="270" y="617" width="7" height="7"/>
<rect x="425" y="603" width="7" height="7"/>
<rect x="500.5" y="480" width="7" height="7"/>
<rect x="526" y="480" width="7" height="7"/>
<rect x="466" y="499" width="7" height="7"/>
<rect x="425" y="560" width="7" height="7"/>
<rect x="609.4" y="601.6" width="7" height="7"/>
<rect x="469" y="609" width="7" height="7"/>
<rect x="442" y="624" width="7" height="7"/>
</g>

</svg>
</body></html>
